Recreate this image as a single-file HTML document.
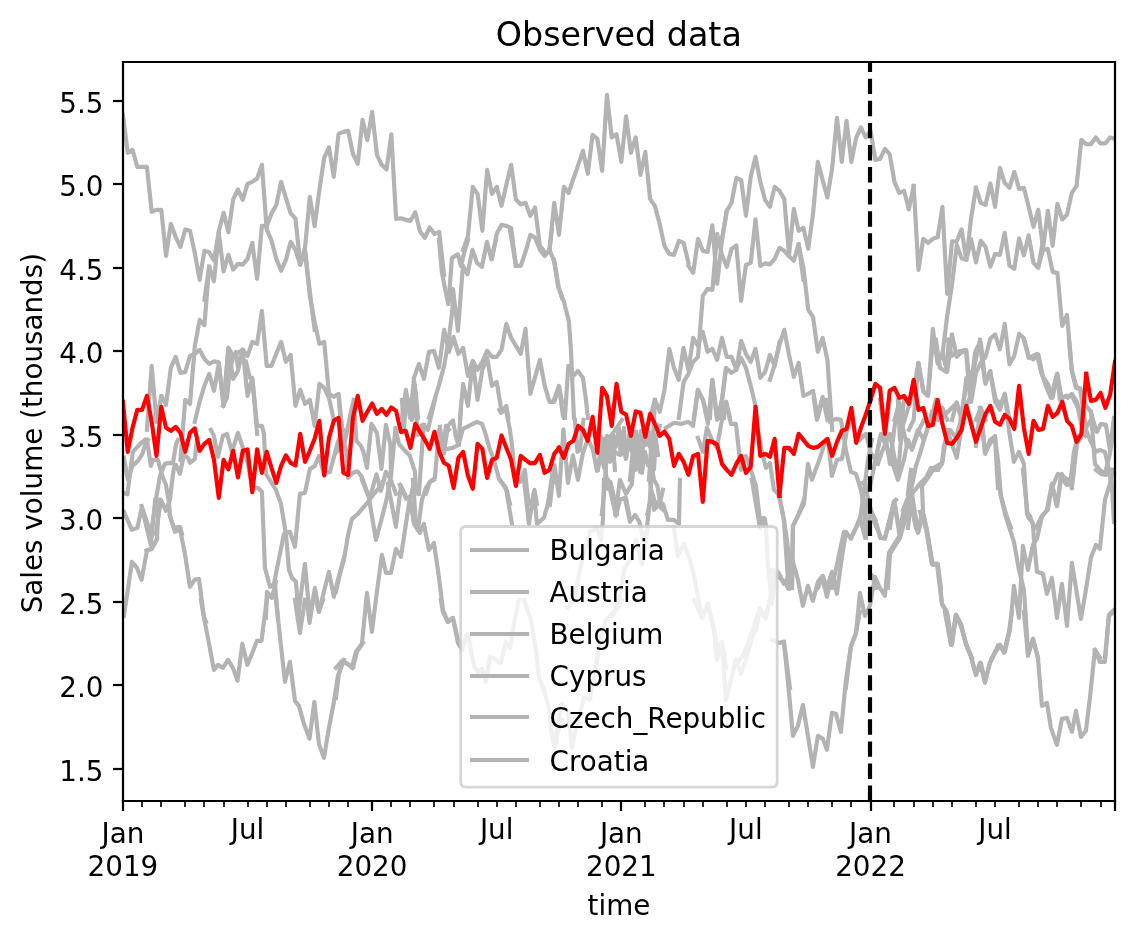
<!DOCTYPE html>
<html><head><meta charset="utf-8"><title>Observed data</title><style>html,body{margin:0;padding:0;background:#fff;overflow:hidden}svg{display:block}text{white-space:pre}</style></head><body>
<svg width="1134" height="940" viewBox="0 0 1134 940" style="font-family:'DejaVu Sans','Liberation Sans',sans-serif"><defs><clipPath id="c0"><rect x="122.93" y="61.84" width="992" height="739.2"/></clipPath></defs>
<path d="M0 940L1134.93 940L1134.93 -0.82L0 -0.82Z" style="fill:#ffffff"/>
<path d="M122.93 801.04L1114.93 801.04L1114.93 61.84L122.93 61.84Z" style="fill:#ffffff"/>
<path d="M123 801L123 811" style="fill:#000000;stroke:#000000;stroke-width:2.22;stroke-linecap:butt;stroke-linejoin:round"/>
<text x="101.49" y="843.31" style="font-size:27.78px;fill:#000000">Jan</text>
<text x="87.56" y="875.71" style="font-size:27.78px;fill:#000000">2019</text>
<path d="M372 801L372 811" style="fill:#000000;stroke:#000000;stroke-width:2.22;stroke-linecap:butt;stroke-linejoin:round"/>
<text x="350.69" y="843.31" style="font-size:27.78px;fill:#000000">Jan</text>
<text x="336.75" y="875.71" style="font-size:27.78px;fill:#000000">2020</text>
<path d="M621 801L621 811" style="fill:#000000;stroke:#000000;stroke-width:2.22;stroke-linecap:butt;stroke-linejoin:round"/>
<text x="599.89" y="843.31" style="font-size:27.78px;fill:#000000">Jan</text>
<text x="586.01" y="875.71" style="font-size:27.78px;fill:#000000">2021</text>
<path d="M871 801L871 811" style="fill:#000000;stroke:#000000;stroke-width:2.22;stroke-linecap:butt;stroke-linejoin:round"/>
<text x="849.09" y="843.31" style="font-size:27.78px;fill:#000000">Jan</text>
<text x="835.21" y="875.71" style="font-size:27.78px;fill:#000000">2022</text>
<path d="M1115 801L1115 811" style="fill:#000000;stroke:#000000;stroke-width:2.22;stroke-linecap:butt;stroke-linejoin:round"/>
<path d="M142 801L142 807" style="fill:#000000;stroke:#000000;stroke-width:1.67;stroke-linecap:butt;stroke-linejoin:round"/>
<path d="M161 801L161 807" style="fill:#000000;stroke:#000000;stroke-width:1.67;stroke-linecap:butt;stroke-linejoin:round"/>
<path d="M185 801L185 807" style="fill:#000000;stroke:#000000;stroke-width:1.67;stroke-linecap:butt;stroke-linejoin:round"/>
<path d="M204 801L204 807" style="fill:#000000;stroke:#000000;stroke-width:1.67;stroke-linecap:butt;stroke-linejoin:round"/>
<path d="M224 801L224 807" style="fill:#000000;stroke:#000000;stroke-width:1.67;stroke-linecap:butt;stroke-linejoin:round"/>
<path d="M248 801L248 807" style="fill:#000000;stroke:#000000;stroke-width:1.67;stroke-linecap:butt;stroke-linejoin:round"/>
<text x="230.72" y="838.87" style="font-size:27.78px;fill:#000000">Jul</text>
<path d="M267 801L267 807" style="fill:#000000;stroke:#000000;stroke-width:1.67;stroke-linecap:butt;stroke-linejoin:round"/>
<path d="M286 801L286 807" style="fill:#000000;stroke:#000000;stroke-width:1.67;stroke-linecap:butt;stroke-linejoin:round"/>
<path d="M310 801L310 807" style="fill:#000000;stroke:#000000;stroke-width:1.67;stroke-linecap:butt;stroke-linejoin:round"/>
<path d="M329 801L329 807" style="fill:#000000;stroke:#000000;stroke-width:1.67;stroke-linecap:butt;stroke-linejoin:round"/>
<path d="M348 801L348 807" style="fill:#000000;stroke:#000000;stroke-width:1.67;stroke-linecap:butt;stroke-linejoin:round"/>
<path d="M391 801L391 807" style="fill:#000000;stroke:#000000;stroke-width:1.67;stroke-linecap:butt;stroke-linejoin:round"/>
<path d="M410 801L410 807" style="fill:#000000;stroke:#000000;stroke-width:1.67;stroke-linecap:butt;stroke-linejoin:round"/>
<path d="M434 801L434 807" style="fill:#000000;stroke:#000000;stroke-width:1.67;stroke-linecap:butt;stroke-linejoin:round"/>
<path d="M454 801L454 807" style="fill:#000000;stroke:#000000;stroke-width:1.67;stroke-linecap:butt;stroke-linejoin:round"/>
<path d="M478 801L478 807" style="fill:#000000;stroke:#000000;stroke-width:1.67;stroke-linecap:butt;stroke-linejoin:round"/>
<path d="M497 801L497 807" style="fill:#000000;stroke:#000000;stroke-width:1.67;stroke-linecap:butt;stroke-linejoin:round"/>
<text x="479.92" y="838.87" style="font-size:27.78px;fill:#000000">Jul</text>
<path d="M516 801L516 807" style="fill:#000000;stroke:#000000;stroke-width:1.67;stroke-linecap:butt;stroke-linejoin:round"/>
<path d="M540 801L540 807" style="fill:#000000;stroke:#000000;stroke-width:1.67;stroke-linecap:butt;stroke-linejoin:round"/>
<path d="M559 801L559 807" style="fill:#000000;stroke:#000000;stroke-width:1.67;stroke-linecap:butt;stroke-linejoin:round"/>
<path d="M578 801L578 807" style="fill:#000000;stroke:#000000;stroke-width:1.67;stroke-linecap:butt;stroke-linejoin:round"/>
<path d="M602 801L602 807" style="fill:#000000;stroke:#000000;stroke-width:1.67;stroke-linecap:butt;stroke-linejoin:round"/>
<path d="M645 801L645 807" style="fill:#000000;stroke:#000000;stroke-width:1.67;stroke-linecap:butt;stroke-linejoin:round"/>
<path d="M664 801L664 807" style="fill:#000000;stroke:#000000;stroke-width:1.67;stroke-linecap:butt;stroke-linejoin:round"/>
<path d="M684 801L684 807" style="fill:#000000;stroke:#000000;stroke-width:1.67;stroke-linecap:butt;stroke-linejoin:round"/>
<path d="M703 801L703 807" style="fill:#000000;stroke:#000000;stroke-width:1.67;stroke-linecap:butt;stroke-linejoin:round"/>
<path d="M727 801L727 807" style="fill:#000000;stroke:#000000;stroke-width:1.67;stroke-linecap:butt;stroke-linejoin:round"/>
<path d="M746 801L746 807" style="fill:#000000;stroke:#000000;stroke-width:1.67;stroke-linecap:butt;stroke-linejoin:round"/>
<text x="729.11" y="838.87" style="font-size:27.78px;fill:#000000">Jul</text>
<path d="M765 801L765 807" style="fill:#000000;stroke:#000000;stroke-width:1.67;stroke-linecap:butt;stroke-linejoin:round"/>
<path d="M789 801L789 807" style="fill:#000000;stroke:#000000;stroke-width:1.67;stroke-linecap:butt;stroke-linejoin:round"/>
<path d="M808 801L808 807" style="fill:#000000;stroke:#000000;stroke-width:1.67;stroke-linecap:butt;stroke-linejoin:round"/>
<path d="M832 801L832 807" style="fill:#000000;stroke:#000000;stroke-width:1.67;stroke-linecap:butt;stroke-linejoin:round"/>
<path d="M851 801L851 807" style="fill:#000000;stroke:#000000;stroke-width:1.67;stroke-linecap:butt;stroke-linejoin:round"/>
<path d="M894 801L894 807" style="fill:#000000;stroke:#000000;stroke-width:1.67;stroke-linecap:butt;stroke-linejoin:round"/>
<path d="M914 801L914 807" style="fill:#000000;stroke:#000000;stroke-width:1.67;stroke-linecap:butt;stroke-linejoin:round"/>
<path d="M933 801L933 807" style="fill:#000000;stroke:#000000;stroke-width:1.67;stroke-linecap:butt;stroke-linejoin:round"/>
<path d="M952 801L952 807" style="fill:#000000;stroke:#000000;stroke-width:1.67;stroke-linecap:butt;stroke-linejoin:round"/>
<path d="M976 801L976 807" style="fill:#000000;stroke:#000000;stroke-width:1.67;stroke-linecap:butt;stroke-linejoin:round"/>
<path d="M995 801L995 807" style="fill:#000000;stroke:#000000;stroke-width:1.67;stroke-linecap:butt;stroke-linejoin:round"/>
<text x="978.31" y="838.87" style="font-size:27.78px;fill:#000000">Jul</text>
<path d="M1019 801L1019 807" style="fill:#000000;stroke:#000000;stroke-width:1.67;stroke-linecap:butt;stroke-linejoin:round"/>
<path d="M1038 801L1038 807" style="fill:#000000;stroke:#000000;stroke-width:1.67;stroke-linecap:butt;stroke-linejoin:round"/>
<path d="M1057 801L1057 807" style="fill:#000000;stroke:#000000;stroke-width:1.67;stroke-linecap:butt;stroke-linejoin:round"/>
<path d="M1081 801L1081 807" style="fill:#000000;stroke:#000000;stroke-width:1.67;stroke-linecap:butt;stroke-linejoin:round"/>
<path d="M1101 801L1101 807" style="fill:#000000;stroke:#000000;stroke-width:1.67;stroke-linecap:butt;stroke-linejoin:round"/>
<text x="587.56" y="914.82" style="font-size:27.78px;fill:#000000">time</text>
<path d="M123 769L113 769" style="fill:#000000;stroke:#000000;stroke-width:2.22;stroke-linecap:butt;stroke-linejoin:round"/>
<text x="59.36" y="780.67" style="font-size:27.78px;fill:#000000">1.5</text>
<path d="M123 685L113 685" style="fill:#000000;stroke:#000000;stroke-width:2.22;stroke-linecap:butt;stroke-linejoin:round"/>
<text x="59.24" y="697.17" style="font-size:27.78px;fill:#000000">2.0</text>
<path d="M123 602L113 602" style="fill:#000000;stroke:#000000;stroke-width:2.22;stroke-linecap:butt;stroke-linejoin:round"/>
<text x="59.36" y="613.67" style="font-size:27.78px;fill:#000000">2.5</text>
<path d="M123 518L113 518" style="fill:#000000;stroke:#000000;stroke-width:2.22;stroke-linecap:butt;stroke-linejoin:round"/>
<text x="59.11" y="530.17" style="font-size:27.78px;fill:#000000">3.0</text>
<path d="M123 435L113 435" style="fill:#000000;stroke:#000000;stroke-width:2.22;stroke-linecap:butt;stroke-linejoin:round"/>
<text x="59.24" y="446.67" style="font-size:27.78px;fill:#000000">3.5</text>
<path d="M123 351L113 351" style="fill:#000000;stroke:#000000;stroke-width:2.22;stroke-linecap:butt;stroke-linejoin:round"/>
<text x="59.24" y="363.17" style="font-size:27.78px;fill:#000000">4.0</text>
<path d="M123 268L113 268" style="fill:#000000;stroke:#000000;stroke-width:2.22;stroke-linecap:butt;stroke-linejoin:round"/>
<text x="59.36" y="279.67" style="font-size:27.78px;fill:#000000">4.5</text>
<path d="M123 184L113 184" style="fill:#000000;stroke:#000000;stroke-width:2.22;stroke-linecap:butt;stroke-linejoin:round"/>
<text x="59.24" y="196.17" style="font-size:27.78px;fill:#000000">5.0</text>
<path d="M123 101L113 101" style="fill:#000000;stroke:#000000;stroke-width:2.22;stroke-linecap:butt;stroke-linejoin:round"/>
<text x="59.36" y="112.67" style="font-size:27.78px;fill:#000000">5.5</text>
<text x="42" y="613.33" style="font-size:27.78px;fill:#000000" transform="rotate(-90 42 613.33)">Sales volume (thousands)</text>
<path d="M122.93 434.84Lnan nanLnan nanLnan nanLnan nanLnan nanLnan nanLnan nanLnan nanLnan nanLnan nanLnan nanLnan nanLnan nanLnan nanLnan nanLnan nanLnan nanLnan nanLnan nanLnan nanLnan nanLnan nanLnan nanLnan nanLnan nanLnan nanLnan nanLnan nanLnan nanLnan nanLnan nanLnan nanLnan nanLnan nanLnan nanLnan nanLnan nanLnan nanLnan nanLnan nanLnan nanLnan nanLnan nanLnan nanLnan nanLnan nanLnan nanLnan nanLnan nanLnan nanLnan nanLnan nanLnan nanLnan nanLnan nanLnan nanLnan nanLnan nanLnan nanLnan nanLnan nanLnan nanLnan nanLnan nanLnan nanLnan nanLnan nanLnan nanLnan nanLnan nanLnan nanLnan nanLnan nanLnan nanLnan nanLnan nanLnan nanLnan nanLnan nanLnan nanLnan nanLnan nanLnan nanLnan nanLnan nanLnan nanLnan nanLnan nanLnan nanLnan nanLnan nanLnan nanLnan nanLnan nanLnan nanLnan nanLnan nanLnan nanLnan nanLnan nanLnan nanLnan nanLnan nanLnan nanLnan nanLnan nanLnan nanLnan nanLnan nanLnan nanLnan nanLnan nanLnan nanLnan nanLnan nanLnan nanLnan nanLnan nanLnan nanLnan nanLnan nanLnan nanLnan nanLnan nanLnan nanLnan nanLnan nanLnan nanLnan nanLnan nanLnan nanLnan nanLnan nanLnan nanLnan nanLnan nanLnan nanLnan nanLnan nanLnan nanLnan nanLnan nanLnan nanLnan nanLnan nanLnan nanLnan nanLnan nanLnan nanLnan nanLnan nanLnan nanLnan nanLnan nanLnan nanLnan nanLnan nanLnan nanLnan nanLnan nanLnan nanLnan nanLnan nanLnan nanLnan nanLnan nanLnan nanLnan nanLnan nanLnan nanLnan nanLnan nanLnan nanLnan nanLnan nanLnan nanLnan nanLnan nanLnan nanLnan nanLnan nanLnan nanLnan nanLnan nanLnan nanLnan nanLnan nanLnan nanLnan nanLnan nanLnan nanLnan nanLnan nanLnan nanLnan nanLnan nanLnan nanLnan nanLnan nanLnan nanLnan nanLnan nanLnan nanLnan nanLnan nanLnan nanLnan nan" style="fill:none;stroke:#b3b3b3;stroke-width:4.17;stroke-linecap:square;stroke-linejoin:round" clip-path="url(#c0)"/>
<path d="M122.93 434.84Lnan nanLnan nanLnan nanLnan nanLnan nanLnan nanLnan nanLnan nanLnan nanLnan nanLnan nanLnan nanLnan nanLnan nanLnan nanLnan nanLnan nanLnan nanLnan nanLnan nanLnan nanLnan nanLnan nanLnan nanLnan nanLnan nanLnan nanLnan nanLnan nanLnan nanLnan nanLnan nanLnan nanLnan nanLnan nanLnan nanLnan nanLnan nanLnan nanLnan nanLnan nanLnan nanLnan nanLnan nanLnan nanLnan nanLnan nanLnan nanLnan nanLnan nanLnan nanLnan nanLnan nanLnan nanLnan nanLnan nanLnan nanLnan nanLnan nanLnan nanLnan nanLnan nanLnan nanLnan nanLnan nanLnan nanLnan nanLnan nanLnan nanLnan nanLnan nanLnan nanLnan nanLnan nanLnan nanLnan nanLnan nanLnan nanLnan nanLnan nanLnan nanLnan nanLnan nanLnan nanLnan nanLnan nanLnan nanLnan nanLnan nanLnan nanLnan nanLnan nanLnan nanLnan nanLnan nanLnan nanLnan nanLnan nanLnan nanLnan nanLnan nanLnan nanLnan nanLnan nanLnan nanLnan nanLnan nanLnan nanLnan nanLnan nanLnan nanLnan nanLnan nanLnan nanLnan nanLnan nanLnan nanLnan nanLnan nanLnan nanLnan nanLnan nanLnan nanLnan nanLnan nanLnan nanLnan nanLnan nanLnan nanLnan nanLnan nanLnan nanLnan nanLnan nanLnan nanLnan nanLnan nanLnan nanLnan nanLnan nanLnan nanLnan nanLnan nanLnan nanLnan nanLnan nanLnan nanLnan nanLnan nanLnan nanLnan nanLnan nanLnan nanLnan nanLnan nanLnan nanLnan nanLnan nanLnan nanLnan nanLnan nanLnan nanLnan nanLnan nanLnan nanLnan nanLnan nanLnan nanLnan nanLnan nanLnan nanLnan nanLnan nanLnan nanLnan nanLnan nanLnan nanLnan nanLnan nanLnan nanLnan nanLnan nanLnan nanLnan nanLnan nanLnan nanLnan nanLnan nanLnan nanLnan nanLnan nanLnan nanLnan nanLnan nanLnan nanLnan nanLnan nanLnan nanLnan nanLnan nanLnan nanLnan nanLnan nanLnan nanLnan nanLnan nanLnan nan" style="fill:none;stroke:#b3b3b3;stroke-width:4.17;stroke-linecap:square;stroke-linejoin:round" clip-path="url(#c0)"/>
<path d="M122.93 434.84Lnan nanLnan nanLnan nanLnan nanLnan nanLnan nanLnan nanLnan nanLnan nanLnan nanLnan nanLnan nanLnan nanLnan nanLnan nanLnan nanLnan nanLnan nanLnan nanLnan nanLnan nanLnan nanLnan nanLnan nanLnan nanLnan nanLnan nanLnan nanLnan nanLnan nanLnan nanLnan nanLnan nanLnan nanLnan nanLnan nanLnan nanLnan nanLnan nanLnan nanLnan nanLnan nanLnan nanLnan nanLnan nanLnan nanLnan nanLnan nanLnan nanLnan nanLnan nanLnan nanLnan nanLnan nanLnan nanLnan nanLnan nanLnan nanLnan nanLnan nanLnan nanLnan nanLnan nanLnan nanLnan nanLnan nanLnan nanLnan nanLnan nanLnan nanLnan nanLnan nanLnan nanLnan nanLnan nanLnan nanLnan nanLnan nanLnan nanLnan nanLnan nanLnan nanLnan nanLnan nanLnan nanLnan nanLnan nanLnan nanLnan nanLnan nanLnan nanLnan nanLnan nanLnan nanLnan nanLnan nanLnan nanLnan nanLnan nanLnan nanLnan nanLnan nanLnan nanLnan nanLnan nanLnan nanLnan nanLnan nanLnan nanLnan nanLnan nanLnan nanLnan nanLnan nanLnan nanLnan nanLnan nanLnan nanLnan nanLnan nanLnan nanLnan nanLnan nanLnan nanLnan nanLnan nanLnan nanLnan nanLnan nanLnan nanLnan nanLnan nanLnan nanLnan nanLnan nanLnan nanLnan nanLnan nanLnan nanLnan nanLnan nanLnan nanLnan nanLnan nanLnan nanLnan nanLnan nanLnan nanLnan nanLnan nanLnan nanLnan nanLnan nanLnan nanLnan nanLnan nanLnan nanLnan nanLnan nanLnan nanLnan nanLnan nanLnan nanLnan nanLnan nanLnan nanLnan nanLnan nanLnan nanLnan nanLnan nanLnan nanLnan nanLnan nanLnan nanLnan nanLnan nanLnan nanLnan nanLnan nanLnan nanLnan nanLnan nanLnan nanLnan nanLnan nanLnan nanLnan nanLnan nanLnan nanLnan nanLnan nanLnan nanLnan nanLnan nanLnan nanLnan nanLnan nanLnan nanLnan nanLnan nanLnan nanLnan nanLnan nanLnan nanLnan nanLnan nan" style="fill:none;stroke:#b3b3b3;stroke-width:4.17;stroke-linecap:square;stroke-linejoin:round" clip-path="url(#c0)"/>
<path d="M122.93 434.84Lnan nanLnan nanLnan nanLnan nanLnan nanLnan nanLnan nanLnan nanLnan nanLnan nanLnan nanLnan nanLnan nanLnan nanLnan nanLnan nanLnan nanLnan nanLnan nanLnan nanLnan nanLnan nanLnan nanLnan nanLnan nanLnan nanLnan nanLnan nanLnan nanLnan nanLnan nanLnan nanLnan nanLnan nanLnan nanLnan nanLnan nanLnan nanLnan nanLnan nanLnan nanLnan nanLnan nanLnan nanLnan nanLnan nanLnan nanLnan nanLnan nanLnan nanLnan nanLnan nanLnan nanLnan nanLnan nanLnan nanLnan nanLnan nanLnan nanLnan nanLnan nanLnan nanLnan nanLnan nanLnan nanLnan nanLnan nanLnan nanLnan nanLnan nanLnan nanLnan nanLnan nanLnan nanLnan nanLnan nanLnan nanLnan nanLnan nanLnan nanLnan nanLnan nanLnan nanLnan nanLnan nanLnan nanLnan nanLnan nanLnan nanLnan nanLnan nanLnan nanLnan nanLnan nanLnan nanLnan nanLnan nanLnan nanLnan nanLnan nanLnan nanLnan nanLnan nanLnan nanLnan nanLnan nanLnan nanLnan nanLnan nanLnan nanLnan nanLnan nanLnan nanLnan nanLnan nanLnan nanLnan nanLnan nanLnan nanLnan nanLnan nanLnan nanLnan nanLnan nanLnan nanLnan nanLnan nanLnan nanLnan nanLnan nanLnan nanLnan nanLnan nanLnan nanLnan nanLnan nanLnan nanLnan nanLnan nanLnan nanLnan nanLnan nanLnan nanLnan nanLnan nanLnan nanLnan nanLnan nanLnan nanLnan nanLnan nanLnan nanLnan nanLnan nanLnan nanLnan nanLnan nanLnan nanLnan nanLnan nanLnan nanLnan nanLnan nanLnan nanLnan nanLnan nanLnan nanLnan nanLnan nanLnan nanLnan nanLnan nanLnan nanLnan nanLnan nanLnan nanLnan nanLnan nanLnan nanLnan nanLnan nanLnan nanLnan nanLnan nanLnan nanLnan nanLnan nanLnan nanLnan nanLnan nanLnan nanLnan nanLnan nanLnan nanLnan nanLnan nanLnan nanLnan nanLnan nanLnan nanLnan nanLnan nanLnan nanLnan nanLnan nanLnan nanLnan nan" style="fill:none;stroke:#b3b3b3;stroke-width:4.17;stroke-linecap:square;stroke-linejoin:round" clip-path="url(#c0)"/>
<path d="M122.93 434.84Lnan nanLnan nanLnan nanLnan nanLnan nanLnan nanLnan nanLnan nanLnan nanLnan nanLnan nanLnan nanLnan nanLnan nanLnan nanLnan nanLnan nanLnan nanLnan nanLnan nanLnan nanLnan nanLnan nanLnan nanLnan nanLnan nanLnan nanLnan nanLnan nanLnan nanLnan nanLnan nanLnan nanLnan nanLnan nanLnan nanLnan nanLnan nanLnan nanLnan nanLnan nanLnan nanLnan nanLnan nanLnan nanLnan nanLnan nanLnan nanLnan nanLnan nanLnan nanLnan nanLnan nanLnan nanLnan nanLnan nanLnan nanLnan nanLnan nanLnan nanLnan nanLnan nanLnan nanLnan nanLnan nanLnan nanLnan nanLnan nanLnan nanLnan nanLnan nanLnan nanLnan nanLnan nanLnan nanLnan nanLnan nanLnan nanLnan nanLnan nanLnan nanLnan nanLnan nanLnan nanLnan nanLnan nanLnan nanLnan nanLnan nanLnan nanLnan nanLnan nanLnan nanLnan nanLnan nanLnan nanLnan nanLnan nanLnan nanLnan nanLnan nanLnan nanLnan nanLnan nanLnan nanLnan nanLnan nanLnan nanLnan nanLnan nanLnan nanLnan nanLnan nanLnan nanLnan nanLnan nanLnan nanLnan nanLnan nanLnan nanLnan nanLnan nanLnan nanLnan nanLnan nanLnan nanLnan nanLnan nanLnan nanLnan nanLnan nanLnan nanLnan nanLnan nanLnan nanLnan nanLnan nanLnan nanLnan nanLnan nanLnan nanLnan nanLnan nanLnan nanLnan nanLnan nanLnan nanLnan nanLnan nanLnan nanLnan nanLnan nanLnan nanLnan nanLnan nanLnan nanLnan nanLnan nanLnan nanLnan nanLnan nanLnan nanLnan nanLnan nanLnan nanLnan nanLnan nanLnan nanLnan nanLnan nanLnan nanLnan nanLnan nanLnan nanLnan nanLnan nanLnan nanLnan nanLnan nanLnan nanLnan nanLnan nanLnan nanLnan nanLnan nanLnan nanLnan nanLnan nanLnan nanLnan nanLnan nanLnan nanLnan nanLnan nanLnan nanLnan nanLnan nanLnan nanLnan nanLnan nanLnan nanLnan nanLnan nanLnan nanLnan nanLnan nanLnan nan" style="fill:none;stroke:#b3b3b3;stroke-width:4.17;stroke-linecap:square;stroke-linejoin:round" clip-path="url(#c0)"/>
<path d="M122.93 434.84Lnan nanLnan nanLnan nanLnan nanLnan nanLnan nanLnan nanLnan nanLnan nanLnan nanLnan nanLnan nanLnan nanLnan nanLnan nanLnan nanLnan nanLnan nanLnan nanLnan nanLnan nanLnan nanLnan nanLnan nanLnan nanLnan nanLnan nanLnan nanLnan nanLnan nanLnan nanLnan nanLnan nanLnan nanLnan nanLnan nanLnan nanLnan nanLnan nanLnan nanLnan nanLnan nanLnan nanLnan nanLnan nanLnan nanLnan nanLnan nanLnan nanLnan nanLnan nanLnan nanLnan nanLnan nanLnan nanLnan nanLnan nanLnan nanLnan nanLnan nanLnan nanLnan nanLnan nanLnan nanLnan nanLnan nanLnan nanLnan nanLnan nanLnan nanLnan nanLnan nanLnan nanLnan nanLnan nanLnan nanLnan nanLnan nanLnan nanLnan nanLnan nanLnan nanLnan nanLnan nanLnan nanLnan nanLnan nanLnan nanLnan nanLnan nanLnan nanLnan nanLnan nanLnan nanLnan nanLnan nanLnan nanLnan nanLnan nanLnan nanLnan nanLnan nanLnan nanLnan nanLnan nanLnan nanLnan nanLnan nanLnan nanLnan nanLnan nanLnan nanLnan nanLnan nanLnan nanLnan nanLnan nanLnan nanLnan nanLnan nanLnan nanLnan nanLnan nanLnan nanLnan nanLnan nanLnan nanLnan nanLnan nanLnan nanLnan nanLnan nanLnan nanLnan nanLnan nanLnan nanLnan nanLnan nanLnan nanLnan nanLnan nanLnan nanLnan nanLnan nanLnan nanLnan nanLnan nanLnan nanLnan nanLnan nanLnan nanLnan nanLnan nanLnan nanLnan nanLnan nanLnan nanLnan nanLnan nanLnan nanLnan nanLnan nanLnan nanLnan nanLnan nanLnan nanLnan nanLnan nanLnan nanLnan nanLnan nanLnan nanLnan nanLnan nanLnan nanLnan nanLnan nanLnan nanLnan nanLnan nanLnan nanLnan nanLnan nanLnan nanLnan nanLnan nanLnan nanLnan nanLnan nanLnan nanLnan nanLnan nanLnan nanLnan nanLnan nanLnan nanLnan nanLnan nanLnan nanLnan nanLnan nanLnan nanLnan nanLnan nanLnan nanLnan nanLnan nan" style="fill:none;stroke:#b3b3b3;stroke-width:4.17;stroke-linecap:square;stroke-linejoin:round" clip-path="url(#c0)"/>
<path d="M122.93 434.84Lnan nanLnan nanLnan nanLnan nanLnan nanLnan nanLnan nanLnan nanLnan nanLnan nanLnan nanLnan nanLnan nanLnan nanLnan nanLnan nanLnan nanLnan nanLnan nanLnan nanLnan nanLnan nanLnan nanLnan nanLnan nanLnan nanLnan nanLnan nanLnan nanLnan nanLnan nanLnan nanLnan nanLnan nanLnan nanLnan nanLnan nanLnan nanLnan nanLnan nanLnan nanLnan nanLnan nanLnan nanLnan nanLnan nanLnan nanLnan nanLnan nanLnan nanLnan nanLnan nanLnan nanLnan nanLnan nanLnan nanLnan nanLnan nanLnan nanLnan nanLnan nanLnan nanLnan nanLnan nanLnan nanLnan nanLnan nanLnan nanLnan nanLnan nanLnan nanLnan nanLnan nanLnan nanLnan nanLnan nanLnan nanLnan nanLnan nanLnan nanLnan nanLnan nanLnan nanLnan nanLnan nanLnan nanLnan nanLnan nanLnan nanLnan nanLnan nanLnan nanLnan nanLnan nanLnan nanLnan nanLnan nanLnan nanLnan nanLnan nanLnan nanLnan nanLnan nanLnan nanLnan nanLnan nanLnan nanLnan nanLnan nanLnan nanLnan nanLnan nanLnan nanLnan nanLnan nanLnan nanLnan nanLnan nanLnan nanLnan nanLnan nanLnan nanLnan nanLnan nanLnan nanLnan nanLnan nanLnan nanLnan nanLnan nanLnan nanLnan nanLnan nanLnan nanLnan nanLnan nanLnan nanLnan nanLnan nanLnan nanLnan nanLnan nanLnan nanLnan nanLnan nanLnan nanLnan nanLnan nanLnan nanLnan nanLnan nanLnan nanLnan nanLnan nanLnan nanLnan nanLnan nanLnan nanLnan nanLnan nanLnan nanLnan nanLnan nanLnan nanLnan nanLnan nanLnan nanLnan nanLnan nanLnan nanLnan nanLnan nanLnan nanLnan nanLnan nanLnan nanLnan nanLnan nanLnan nanLnan nanLnan nanLnan nanLnan nanLnan nanLnan nanLnan nanLnan nanLnan nanLnan nanLnan nanLnan nanLnan nanLnan nanLnan nanLnan nanLnan nanLnan nanLnan nanLnan nanLnan nanLnan nanLnan nanLnan nanLnan nanLnan nanLnan nanLnan nan" style="fill:none;stroke:#ff0000;stroke-width:4.17;stroke-linecap:square;stroke-linejoin:round" clip-path="url(#c0)"/>
<path d="M122.93 114.84L127.72 152.84L132.52 149.84L137.31 166.84L142.1 166.84L146.89 166.84L151.68 211.84L156.48 209.84L161.27 209.84L166.06 255.84L170.85 223.84L175.65 236.84L180.44 246.84L185.23 229.44L190.02 230.84L194.81 252.84L199.61 279.84L204.4 250.84L209.19 252.34L213.98 260.34L218.78 231.34L223.57 212.84L228.36 232.34L233.15 199.44L237.95 189.44L242.74 199.84L247.53 183.84L252.32 181.84L257.11 178.44L261.91 164.84L266.7 229.44L271.49 240.54L276.28 258.84L281.08 270.84L285.87 259.84L290.66 241.84L295.45 249.84L300.24 264.84L305.04 247.34L309.83 196.84L314.62 226.24L319.41 189.84L324.21 157.84L329 147.44L333.79 176.84L338.58 133.84L343.37 131.84L348.17 130.84L352.96 153.84L357.75 163.84L362.54 119.84L367.34 140.24L372.13 111.84L376.92 154.84L381.71 164.84L386.51 169.44L391.3 134.24L396.09 218.84L400.88 218.24L405.67 219.84L410.47 220.84L415.26 212.24L420.05 231.44L424.84 237.84L429.64 227.44L434.43 233.84L439.22 231.84L444.01 274.84" style="fill:none;stroke:#b3b3b3;stroke-width:4.17;stroke-linecap:square;stroke-linejoin:round" clip-path="url(#c0)"/>
<path d="M204.4 299.84L209.19 266.54L213.98 281.34L218.78 232.84L223.57 271.44L228.36 254.84L233.15 269.64L237.95 263.84L242.74 264.64L247.53 258.84L252.32 242.84L257.11 278.84L261.91 225.84L266.7 226.34L271.49 213.44L276.28 205.14L281.08 181.84L285.87 197.84L290.66 213.44L295.45 218.54L300.24 263.84L305.04 250.84L309.83 291.84L314.62 329.84" style="fill:none;stroke:#b3b3b3;stroke-width:4.17;stroke-linecap:square;stroke-linejoin:round" clip-path="url(#c0)"/>
<path d="M463.18 249.84L467.97 235.84L472.77 186.84L477.56 193.84L482.35 230.84L487.14 169.84L491.94 193.84L496.73 186.84L501.52 205.84L506.31 184.84L511.1 164.84L515.9 199.44L520.69 204.24L525.48 202.84L530.27 215.84L535.07 207.44L539.86 245.84L544.65 251.84" style="fill:none;stroke:#b3b3b3;stroke-width:4.17;stroke-linecap:square;stroke-linejoin:round" clip-path="url(#c0)"/>
<path d="M491.94 258.84L496.73 233.84L501.52 224.84L506.31 225.84L511.1 227.84L515.9 265.84" style="fill:none;stroke:#b3b3b3;stroke-width:4.17;stroke-linecap:square;stroke-linejoin:round" clip-path="url(#c0)"/>
<path d="M549.44 249.84L554.23 202.84L559.03 234.84L563.82 186.84L568.61 192.84L573.4 178.84L578.2 164.84L582.99 150.84L587.78 173.84L592.57 134.84L597.37 138.84L602.16 170.84L606.95 94.84L611.74 137.44L616.53 134.24L621.33 161.84L626.12 116.24L630.91 152.84L635.7 137.44L640.5 174.84L645.29 151.84L650.08 198.84L654.87 205.84L659.66 223.84L664.46 245.84L669.25 253.84L674.04 254.84L678.83 240.84L683.63 242.84L688.42 262.84" style="fill:none;stroke:#b3b3b3;stroke-width:4.17;stroke-linecap:square;stroke-linejoin:round" clip-path="url(#c0)"/>
<path d="M721.96 239.84L726.76 210.84L731.55 202.84L736.34 177.84L741.13 179.84L745.93 215.84L750.72 176.84L755.51 156.84L760.3 181.84L765.09 199.84L769.89 206.84L774.68 186.84L779.47 190.84L784.26 198.84L789.06 254.84L793.85 208.84L798.64 230.84L803.43 227.84L808.23 248.84L813.02 213.84L817.81 161.84L822.6 179.84L827.39 197.44L832.19 167.84L836.98 117.84L841.77 161.84L846.56 120.84L851.36 161.84L856.15 137.84L860.94 127.44L865.73 137.44L870.52 130.84L875.32 159.84L880.11 158.84L884.9 148.84L889.69 154.24L894.49 181.84L899.28 192.84L904.07 190.84L908.86 209.44L913.66 185.84" style="fill:none;stroke:#b3b3b3;stroke-width:4.17;stroke-linecap:square;stroke-linejoin:round" clip-path="url(#c0)"/>
<path d="M975.95 187.84L980.75 202.84L985.54 204.84L990.33 183.44L995.12 206.84L999.92 167.84L1004.71 182.84L1009.5 187.84L1014.29 171.84L1019.09 188.84L1023.88 187.84L1028.67 206.84L1033.46 226.84L1038.25 209.84L1043.05 248.84L1047.84 210.84L1052.63 245.84L1057.42 203.84L1062.22 219.44L1067.01 214.84L1071.8 192.84L1076.59 185.84L1081.38 139.84L1086.18 144.24L1090.97 144.24L1095.76 137.44L1100.55 143.44L1105.35 143.44L1110.14 137.44L1114.93 138.84" style="fill:none;stroke:#b3b3b3;stroke-width:4.17;stroke-linecap:square;stroke-linejoin:round" clip-path="url(#c0)"/>
<path d="M180.44 459.84L185.23 399.84L190.02 403.84L194.81 346.44L199.61 319.84L204.4 325.24L209.19 266.54" style="fill:none;stroke:#b3b3b3;stroke-width:4.17;stroke-linecap:square;stroke-linejoin:round" clip-path="url(#c0)"/>
<path d="M146.89 429.84L151.68 365.84L156.48 421.84L161.27 395.84L166.06 404.84L170.85 367.84L175.65 356.84L180.44 372.84L185.23 371.84L190.02 355.84L194.81 353.84L199.61 349.84L204.4 358.84L209.19 363.84L213.98 361.34L218.78 362.34L223.57 405.84L228.36 347.84L233.15 378.84L237.95 370.84L242.74 349.84L247.53 395.84L252.32 377.84L257.11 433.84" style="fill:none;stroke:#b3b3b3;stroke-width:4.17;stroke-linecap:square;stroke-linejoin:round" clip-path="url(#c0)"/>
<path d="M194.81 421.84L199.61 401.84L204.4 385.84L209.19 373.84L213.98 390.84L218.78 363.84L223.57 405.84L228.36 347.84L233.15 355.84L237.95 352.84L242.74 349.84L247.53 355.84L252.32 341.84L257.11 343.84L261.91 310.84L266.7 365.84L271.49 365.84L276.28 353.84L281.08 341.84L285.87 361.84L290.66 354.84L295.45 405.84L300.24 389.84L305.04 403.84L309.83 399.84L314.62 425.84L319.41 383.84L324.21 387.84L329 397.84L333.79 419.84" style="fill:none;stroke:#b3b3b3;stroke-width:4.17;stroke-linecap:square;stroke-linejoin:round" clip-path="url(#c0)"/>
<path d="M300.24 263.84L305.04 250.84L309.83 295.84L314.62 321.84L319.41 343.84L324.21 341.84L329 393.84L333.79 396.84L338.58 393.84L343.37 439.84" style="fill:none;stroke:#b3b3b3;stroke-width:4.17;stroke-linecap:square;stroke-linejoin:round" clip-path="url(#c0)"/>
<path d="M222.93 405.84L226.93 397.84L229.93 369.84L232.93 357.84L235.93 351.84L237.93 367.84L242.93 349.84" style="fill:none;stroke:#b3b3b3;stroke-width:4.17;stroke-linecap:square;stroke-linejoin:round" clip-path="url(#c0)"/>
<path d="M245.93 361.84L249.93 377.84L252.33 378.84L257.13 425.84L261.93 425.84L263.93 433.84" style="fill:none;stroke:#b3b3b3;stroke-width:4.17;stroke-linecap:square;stroke-linejoin:round" clip-path="url(#c0)"/>
<path d="M335.93 452.84L344.93 441.84L351.93 406.84L353.93 399.84" style="fill:none;stroke:#b3b3b3;stroke-width:4.17;stroke-linecap:square;stroke-linejoin:round" clip-path="url(#c0)"/>
<path d="M338.93 399.84L340.93 424.84L343.93 441.84L346.43 451.84L347.93 477.84L352.93 472.84L357.43 471.34L361.93 476.84L364.93 485.84L367.93 493.84" style="fill:none;stroke:#b3b3b3;stroke-width:4.17;stroke-linecap:square;stroke-linejoin:round" clip-path="url(#c0)"/>
<path d="M353.93 399.84L355.43 424.84L356.43 440.84L360.93 445.84L363.43 451.84L366.93 467.84L371.43 423.84L376.93 432.84L381.43 468.84L385.93 424.84L390.43 444.84L390.93 476.84L395.43 427.84L398.93 443.84L405.93 451.84L409.93 455.84L414.93 471.84L415.93 489.84L414.93 493.84" style="fill:none;stroke:#b3b3b3;stroke-width:4.17;stroke-linecap:square;stroke-linejoin:round" clip-path="url(#c0)"/>
<path d="M370.93 493.84L376.43 474.34L380.93 490.84L385.93 471.84L390.93 479.84L395.93 493.84" style="fill:none;stroke:#b3b3b3;stroke-width:4.17;stroke-linecap:square;stroke-linejoin:round" clip-path="url(#c0)"/>
<path d="M399.93 484.84L404.93 493.84" style="fill:none;stroke:#b3b3b3;stroke-width:4.17;stroke-linecap:square;stroke-linejoin:round" clip-path="url(#c0)"/>
<path d="M401.93 399.84L403.93 429.84L405.93 399.84L409.93 399.84L411.93 419.84L414.93 399.84L417.93 434.84L420.93 425.84L423.93 424.84L427.93 429.84L434.93 399.84" style="fill:none;stroke:#b3b3b3;stroke-width:4.17;stroke-linecap:square;stroke-linejoin:round" clip-path="url(#c0)"/>
<path d="M418.93 493.84L421.93 449.84L423.93 424.84" style="fill:none;stroke:#b3b3b3;stroke-width:4.17;stroke-linecap:square;stroke-linejoin:round" clip-path="url(#c0)"/>
<path d="M425.93 493.84L429.93 481.84L434.93 477.84L438.93 429.84L442.93 451.84L445.93 425.84L448.93 429.84" style="fill:none;stroke:#b3b3b3;stroke-width:4.17;stroke-linecap:square;stroke-linejoin:round" clip-path="url(#c0)"/>
<path d="M438.93 239.84L441.93 272.84L447.93 302.84L452.93 288.84L457.93 330.84L462.93 265.84L467.43 274.34L472.43 249.84L476.93 262.84L481.93 266.84L486.93 241.84L491.43 259.34L495.93 239.84" style="fill:none;stroke:#b3b3b3;stroke-width:4.17;stroke-linecap:square;stroke-linejoin:round" clip-path="url(#c0)"/>
<path d="M448.43 303.84L451.93 257.84L457.93 254.34L460.93 265.84L464.43 251.84L467.93 239.84" style="fill:none;stroke:#b3b3b3;stroke-width:4.17;stroke-linecap:square;stroke-linejoin:round" clip-path="url(#c0)"/>
<path d="M509.93 229.84L515.93 265.84L520.73 265.84L525.53 251.84L530.33 234.84L535.13 237.84L539.93 249.84L544.73 255.84L549.53 249.84L551.93 229.84" style="fill:none;stroke:#b3b3b3;stroke-width:4.17;stroke-linecap:square;stroke-linejoin:round" clip-path="url(#c0)"/>
<path d="M549.53 249.84L554.33 261.84L557.93 285.84L561.93 297.84" style="fill:none;stroke:#b3b3b3;stroke-width:4.17;stroke-linecap:square;stroke-linejoin:round" clip-path="url(#c0)"/>
<path d="M413.93 377.84L418.93 363.84L423.93 378.84L428.93 351.84L433.93 350.84L438.93 367.84L444.13 329.84L448.93 351.84L453.53 336.84L458.33 353.84L463.13 347.84L467.93 375.84L472.73 360.84L477.53 369.84L482.33 361.84L487.13 350.84L491.93 356.84L496.73 356.84L501.53 349.84L506.33 323.84L511.13 337.84L515.93 345.84L520.73 353.84L525.53 328.84L530.33 393.84L535.13 376.84L539.93 359.84L544.73 385.84L549.53 401.84L554.33 401.84L559.13 386.84L561.93 401.84" style="fill:none;stroke:#b3b3b3;stroke-width:4.17;stroke-linecap:square;stroke-linejoin:round" clip-path="url(#c0)"/>
<path d="M428.93 417.84L434.53 399.84L439.33 383.84L444.13 365.84L448.93 337.84L451.93 313.84L453.53 295.84" style="fill:none;stroke:#b3b3b3;stroke-width:4.17;stroke-linecap:square;stroke-linejoin:round" clip-path="url(#c0)"/>
<path d="M401.93 417.84L405.93 389.84L409.93 417.84L413.93 379.84L415.93 393.84L417.93 417.84" style="fill:none;stroke:#b3b3b3;stroke-width:4.17;stroke-linecap:square;stroke-linejoin:round" clip-path="url(#c0)"/>
<path d="M459.93 417.84L463.13 383.84L467.93 405.84L472.73 361.84L477.53 399.84L482.33 369.84L487.13 357.84L491.93 385.84L496.73 381.84L501.53 411.84L506.33 405.84L508.33 417.84" style="fill:none;stroke:#b3b3b3;stroke-width:4.17;stroke-linecap:square;stroke-linejoin:round" clip-path="url(#c0)"/>
<path d="M688.42 265.84L693.21 272.84L698 238.84L702.8 250.84L707.59 251.84L712.38 225.34L717.17 283.84L721.96 239.84L726.76 210.84" style="fill:none;stroke:#b3b3b3;stroke-width:4.17;stroke-linecap:square;stroke-linejoin:round" clip-path="url(#c0)"/>
<path d="M678.83 417.84L683.63 381.84L688.42 373.84L693.21 361.84L698 356.84L702.8 295.84L707.59 288.84L712.38 289.84L717.17 233.84L721.96 254.84L726.76 266.84L731.55 248.84L736.34 245.34L741.13 300.84L745.93 264.84L750.72 262.84L755.51 219.34L760.3 265.84L765.09 263.34L769.89 264.34L774.68 258.84L779.47 247.84L784.26 250.84L789.06 256.34L793.85 260.84L798.64 243.84L803.43 279.84" style="fill:none;stroke:#b3b3b3;stroke-width:4.17;stroke-linecap:square;stroke-linejoin:round" clip-path="url(#c0)"/>
<path d="M553.93 259.84L558.93 287.84L563.93 301.84L568.93 321.84L570.93 349.84L573.93 417.84" style="fill:none;stroke:#b3b3b3;stroke-width:4.17;stroke-linecap:square;stroke-linejoin:round" clip-path="url(#c0)"/>
<path d="M553.93 399.84L558.93 385.84L562.93 415.84L563.93 417.84" style="fill:none;stroke:#b3b3b3;stroke-width:4.17;stroke-linecap:square;stroke-linejoin:round" clip-path="url(#c0)"/>
<path d="M564.93 417.84L568.33 365.84L570.93 369.84L573.33 375.84L577.93 370.84L582.93 377.84L585.93 399.84L587.93 417.84" style="fill:none;stroke:#b3b3b3;stroke-width:4.17;stroke-linecap:square;stroke-linejoin:round" clip-path="url(#c0)"/>
<path d="M650.13 417.84L654.93 399.84L659.73 411.84L664.53 389.84L669.33 348.84L673.93 367.84L678.73 379.84L683.53 347.84L688.33 369.84L693.13 337.84L697.93 345.84L702.73 331.84L707.53 351.84L712.33 348.84L717.13 359.84L721.93 337.84L726.73 356.84L731.53 356.84L736.33 369.84L741.13 340.84L745.93 353.84L750.73 361.84L755.53 348.84L760.33 377.84L765.13 371.84L769.93 354.84L774.73 365.84L779.53 341.84" style="fill:none;stroke:#b3b3b3;stroke-width:4.17;stroke-linecap:square;stroke-linejoin:round" clip-path="url(#c0)"/>
<path d="M693.93 417.84L697.93 389.84L702.93 399.84L707.93 417.84" style="fill:none;stroke:#b3b3b3;stroke-width:4.17;stroke-linecap:square;stroke-linejoin:round" clip-path="url(#c0)"/>
<path d="M709.93 417.84L712.33 379.84L716.93 417.84" style="fill:none;stroke:#b3b3b3;stroke-width:4.17;stroke-linecap:square;stroke-linejoin:round" clip-path="url(#c0)"/>
<path d="M719.93 417.84L725.93 367.84L731.53 372.84L736.33 369.84L741.13 357.84L745.93 367.84L750.73 385.84L755.53 405.84L756.93 417.84" style="fill:none;stroke:#b3b3b3;stroke-width:4.17;stroke-linecap:square;stroke-linejoin:round" clip-path="url(#c0)"/>
<path d="M723.93 417.84L726.33 401.84L729.93 417.84" style="fill:none;stroke:#b3b3b3;stroke-width:4.17;stroke-linecap:square;stroke-linejoin:round" clip-path="url(#c0)"/>
<path d="M798.64 244.84L803.43 267.84L808.23 309.84L813.02 316.84L817.81 351.84L822.6 337.84L827.39 359.84L832.19 429.84" style="fill:none;stroke:#b3b3b3;stroke-width:4.17;stroke-linecap:square;stroke-linejoin:round" clip-path="url(#c0)"/>
<path d="M769.89 379.84L774.68 364.84L779.47 344.84L784.26 329.84L789.06 354.84L793.85 376.84L798.64 362.84L803.43 395.84L808.23 393.84L813.02 390.84L817.81 417.84L822.6 396.84L827.39 419.84" style="fill:none;stroke:#b3b3b3;stroke-width:4.17;stroke-linecap:square;stroke-linejoin:round" clip-path="url(#c0)"/>
<path d="M913.66 185.84L918.45 269.84L923.24 238.84L928.03 242.84L932.82 238.84L937.62 237.34L942.41 206.84L947.2 293.84L951.99 241.34L956.79 241.34L961.58 229.34L966.37 259.84L971.16 217.84L975.95 187.84" style="fill:none;stroke:#b3b3b3;stroke-width:4.17;stroke-linecap:square;stroke-linejoin:round" clip-path="url(#c0)"/>
<path d="M942.41 354.84L947.2 315.84L951.99 284.84L956.79 244.84L961.58 258.34L966.37 259.84L971.16 239.34L975.95 262.34L980.75 240.84L985.54 246.84L990.33 266.84L995.12 253.84L999.92 254.84L1004.71 232.84L1009.5 265.84L1014.29 268.84L1019.09 238.34L1023.88 255.34L1028.67 235.34L1033.46 262.84L1038.25 267.84L1043.05 239.84" style="fill:none;stroke:#b3b3b3;stroke-width:4.17;stroke-linecap:square;stroke-linejoin:round" clip-path="url(#c0)"/>
<path d="M908.86 429.84L913.66 419.84L918.45 362.84L923.24 390.84L928.03 395.84L932.82 328.84L937.62 363.84L942.41 352.84L947.2 371.84L951.99 334.34L956.79 356.84L961.58 352.34L966.37 350.34L971.16 401.84L975.95 372.84L980.75 362.84L985.54 356.84L990.33 338.84L995.12 334.34L999.92 349.34L1004.71 323.84L1009.5 364.34L1014.29 355.84L1019.09 333.84L1023.88 338.34L1028.67 356.84L1033.46 359.34L1038.25 354.34L1043.05 376.84L1047.84 383.84L1052.63 397.84L1057.42 373.84L1062.22 401.84L1067.01 419.84" style="fill:none;stroke:#b3b3b3;stroke-width:4.17;stroke-linecap:square;stroke-linejoin:round" clip-path="url(#c0)"/>
<path d="M961.58 419.84L966.37 377.84L971.16 394.84L975.95 349.84L980.75 341.84L985.54 383.84L990.33 370.84L995.12 401.84L999.92 409.84L1004.71 393.84L1009.5 419.84" style="fill:none;stroke:#b3b3b3;stroke-width:4.17;stroke-linecap:square;stroke-linejoin:round" clip-path="url(#c0)"/>
<path d="M937.62 419.84L942.41 407.84L947.2 419.84" style="fill:none;stroke:#b3b3b3;stroke-width:4.17;stroke-linecap:square;stroke-linejoin:round" clip-path="url(#c0)"/>
<path d="M951.99 419.84L956.79 402.34L961.58 419.84" style="fill:none;stroke:#b3b3b3;stroke-width:4.17;stroke-linecap:square;stroke-linejoin:round" clip-path="url(#c0)"/>
<path d="M975.95 419.84L980.75 407.84L985.54 419.84" style="fill:none;stroke:#b3b3b3;stroke-width:4.17;stroke-linecap:square;stroke-linejoin:round" clip-path="url(#c0)"/>
<path d="M894.49 419.84L899.28 403.84L904.07 419.84" style="fill:none;stroke:#b3b3b3;stroke-width:4.17;stroke-linecap:square;stroke-linejoin:round" clip-path="url(#c0)"/>
<path d="M1038.25 266.84L1043.05 249.84L1047.84 248.84L1052.63 271.84L1057.42 272.84L1062.22 325.84L1067.01 314.84L1071.8 369.84L1076.59 387.84L1081.38 389.84L1086.18 405.84L1090.97 411.84L1095.76 429.84" style="fill:none;stroke:#b3b3b3;stroke-width:4.17;stroke-linecap:square;stroke-linejoin:round" clip-path="url(#c0)"/>
<path d="M123.93 511.84L131.93 529.84L137.43 527.84L141.93 506.84L146.93 521.84L151.43 535.84" style="fill:none;stroke:#b3b3b3;stroke-width:4.17;stroke-linecap:square;stroke-linejoin:round" clip-path="url(#c0)"/>
<path d="M123.93 492.84L127.43 494.34L130.43 469.84L132.93 451.84L137.43 446.84L142.43 441.84L144.93 439.84" style="fill:none;stroke:#b3b3b3;stroke-width:4.17;stroke-linecap:square;stroke-linejoin:round" clip-path="url(#c0)"/>
<path d="M123.93 457.84L127.93 479.84L132.43 465.84L137.93 460.84L142.43 453.84L145.43 443.84L147.93 439.84" style="fill:none;stroke:#b3b3b3;stroke-width:4.17;stroke-linecap:square;stroke-linejoin:round" clip-path="url(#c0)"/>
<path d="M146.93 439.84L150.93 465.84L152.93 459.84L157.93 459.84L161.93 474.84L165.93 484.84L168.93 501.84L169.93 515.84L173.93 527.84L179.93 526.84L181.93 533.84" style="fill:none;stroke:#b3b3b3;stroke-width:4.17;stroke-linecap:square;stroke-linejoin:round" clip-path="url(#c0)"/>
<path d="M150.93 533.84L155.93 499.84L159.93 475.84L164.93 463.84L169.93 462.84L172.93 463.34L175.93 444.84L177.93 439.84" style="fill:none;stroke:#b3b3b3;stroke-width:4.17;stroke-linecap:square;stroke-linejoin:round" clip-path="url(#c0)"/>
<path d="M155.93 533.84L160.93 499.84L165.93 510.84L169.93 499.84L171.93 482.84L173.93 467.84L175.93 464.84L179.93 473.84L183.93 454.84L187.93 457.84L189.93 462.84L194.93 458.84L196.93 439.84" style="fill:none;stroke:#b3b3b3;stroke-width:4.17;stroke-linecap:square;stroke-linejoin:round" clip-path="url(#c0)"/>
<path d="M123.93 615.84L131.93 561.84L136.93 567.84L141.53 579.84L146.93 550.84L151.93 548.84L156.93 538.84" style="fill:none;stroke:#b3b3b3;stroke-width:4.17;stroke-linecap:square;stroke-linejoin:round" clip-path="url(#c0)"/>
<path d="M169.93 515.84L174.93 531.84L179.93 528.84L184.93 553.84L189.93 586.84L194.93 579.44L198.93 578.84L203.93 616.84L205.93 621.84" style="fill:none;stroke:#b3b3b3;stroke-width:4.17;stroke-linecap:square;stroke-linejoin:round" clip-path="url(#c0)"/>
<path d="M251.93 487.84L257.93 487.84L261.93 491.84L264.93 567.84L269.93 586.84L274.93 583.84L277.93 617.84" style="fill:none;stroke:#b3b3b3;stroke-width:4.17;stroke-linecap:square;stroke-linejoin:round" clip-path="url(#c0)"/>
<path d="M265.93 617.84L266.93 591.84L271.93 597.84L275.93 581.84" style="fill:none;stroke:#b3b3b3;stroke-width:4.17;stroke-linecap:square;stroke-linejoin:round" clip-path="url(#c0)"/>
<path d="M263.93 433.84L265.93 473.84L270.93 481.84L275.93 489.84L280.93 503.84L285.93 533.84L288.93 569.84L291.93 577.84L295.93 581.84L298.93 617.84" style="fill:none;stroke:#b3b3b3;stroke-width:4.17;stroke-linecap:square;stroke-linejoin:round" clip-path="url(#c0)"/>
<path d="M273.93 583.84L283.93 533.84L289.93 531.84L294.93 546.84L299.93 493.84L304.93 492.84L309.93 468.84L314.93 465.84L318.93 455.84L323.93 473.84L329.93 471.84L337.93 441.84L342.93 429.84" style="fill:none;stroke:#b3b3b3;stroke-width:4.17;stroke-linecap:square;stroke-linejoin:round" clip-path="url(#c0)"/>
<path d="M297.93 617.84L304.93 563.84L309.93 617.84L314.93 587.84L318.93 611.84L323.93 591.84L328.93 571.84L333.93 596.84L337.93 579.84L343.93 557.84" style="fill:none;stroke:#b3b3b3;stroke-width:4.17;stroke-linecap:square;stroke-linejoin:round" clip-path="url(#c0)"/>
<path d="M210.93 429.84L213.93 435.84L217.93 456.84L222.93 435.84L226.93 433.84L231.93 451.84L237.93 432.84L242.93 447.84L247.93 463.84L252.33 487.84" style="fill:none;stroke:#b3b3b3;stroke-width:4.17;stroke-linecap:square;stroke-linejoin:round" clip-path="url(#c0)"/>
<path d="M335.93 591.84L339.93 573.84L343.93 559.84L347.93 535.84L351.93 518.84L357.93 513.84L362.93 507.84L368.93 500.84L373.93 493.84L378.93 487.84L383.93 479.84" style="fill:none;stroke:#b3b3b3;stroke-width:4.17;stroke-linecap:square;stroke-linejoin:round" clip-path="url(#c0)"/>
<path d="M361.93 479.84L368.93 497.84L375.93 539.84L382.93 513.84L386.93 497.84L389.93 479.84" style="fill:none;stroke:#b3b3b3;stroke-width:4.17;stroke-linecap:square;stroke-linejoin:round" clip-path="url(#c0)"/>
<path d="M387.93 483.84L395.93 526.84L400.93 485.84L405.93 498.84L410.93 495.84L414.93 479.84" style="fill:none;stroke:#b3b3b3;stroke-width:4.17;stroke-linecap:square;stroke-linejoin:round" clip-path="url(#c0)"/>
<path d="M335.93 667.84L341.93 660.84L350.93 665.84L352.93 667.84" style="fill:none;stroke:#b3b3b3;stroke-width:4.17;stroke-linecap:square;stroke-linejoin:round" clip-path="url(#c0)"/>
<path d="M351.93 667.84L355.93 651.84L361.93 643.84L366.93 592.84L371.93 631.84L376.93 591.84L381.93 554.84L385.93 572.84L390.93 572.84L395.93 548.84L400.93 556.84L405.93 523.84L409.93 497.84L413.93 523.84L417.93 529.84" style="fill:none;stroke:#b3b3b3;stroke-width:4.17;stroke-linecap:square;stroke-linejoin:round" clip-path="url(#c0)"/>
<path d="M412.93 479.84L415.93 523.84L419.93 532.84L423.93 523.84L428.93 549.84L433.93 542.84L437.93 569.84L442.93 609.84L447.93 621.84L452.93 617.84L457.93 639.84L461.93 649.84L465.93 635.84" style="fill:none;stroke:#b3b3b3;stroke-width:4.17;stroke-linecap:square;stroke-linejoin:round" clip-path="url(#c0)"/>
<path d="M417.93 529.84L421.93 499.84L425.93 487.84L429.93 481.84L433.93 479.84" style="fill:none;stroke:#b3b3b3;stroke-width:4.17;stroke-linecap:square;stroke-linejoin:round" clip-path="url(#c0)"/>
<path d="M499.93 479.84L505.93 487.84L511.93 523.84" style="fill:none;stroke:#b3b3b3;stroke-width:4.17;stroke-linecap:square;stroke-linejoin:round" clip-path="url(#c0)"/>
<path d="M523.93 479.84L528.93 523.84L533.93 491.84L536.93 523.84L543.93 517.84L547.93 503.84L551.93 483.84L555.93 479.84" style="fill:none;stroke:#b3b3b3;stroke-width:4.17;stroke-linecap:square;stroke-linejoin:round" clip-path="url(#c0)"/>
<path d="M335.93 697.84L338.93 673.84L342.93 660.84L352.93 667.84L356.93 651.84L362.93 642.84" style="fill:none;stroke:#b3b3b3;stroke-width:4.17;stroke-linecap:square;stroke-linejoin:round" clip-path="url(#c0)"/>
<path d="M440.93 599.84L442.93 611.84L447.93 621.84L452.93 617.84L457.93 642.84L460.93 647.84L463.93 643.84L467.93 633.84L473.93 665.84L477.93 671.84L481.93 668.84L485.93 681.84L489.93 656.84L495.93 659.84L500.93 662.84L505.93 641.84L509.93 647.84L513.93 623.84L518.93 599.84" style="fill:none;stroke:#b3b3b3;stroke-width:4.17;stroke-linecap:square;stroke-linejoin:round" clip-path="url(#c0)"/>
<path d="M523.93 599.84L530.93 619.84L535.93 649.84L538.93 677.84L543.93 689.84L548.93 707.84L551.93 735.84L554.93 747.84L557.93 731.84L561.93 719.84" style="fill:none;stroke:#b3b3b3;stroke-width:4.17;stroke-linecap:square;stroke-linejoin:round" clip-path="url(#c0)"/>
<path d="M200.93 599.84L204.33 619.84L207.93 637.84L213.93 669.84L217.93 664.84L222.93 667.84L227.93 659.84L232.93 667.84L237.53 680.84L242.33 643.84L247.33 664.84L252.33 652.84L256.93 640.84L261.53 640.84L266.73 599.84" style="fill:none;stroke:#b3b3b3;stroke-width:4.17;stroke-linecap:square;stroke-linejoin:round" clip-path="url(#c0)"/>
<path d="M275.93 599.84L284.93 681.84L289.93 661.84L294.93 700.84L298.93 705.84L303.93 723.84L309.53 738.84L314.33 701.84L318.93 743.84L323.93 757.84L328.93 727.84L333.93 701.84L337.93 675.84L343.93 659.84" style="fill:none;stroke:#b3b3b3;stroke-width:4.17;stroke-linecap:square;stroke-linejoin:round" clip-path="url(#c0)"/>
<path d="M294.93 599.84L299.93 632.84L304.93 599.84" style="fill:none;stroke:#b3b3b3;stroke-width:4.17;stroke-linecap:square;stroke-linejoin:round" clip-path="url(#c0)"/>
<path d="M306.93 599.84L309.53 622.84L312.93 599.84" style="fill:none;stroke:#b3b3b3;stroke-width:4.17;stroke-linecap:square;stroke-linejoin:round" clip-path="url(#c0)"/>
<path d="M315.93 599.84L318.93 611.84L322.93 599.84" style="fill:none;stroke:#b3b3b3;stroke-width:4.17;stroke-linecap:square;stroke-linejoin:round" clip-path="url(#c0)"/>
<path d="M646.93 527.84L649.93 499.84L652.93 439.84L654.93 399.84" style="fill:none;stroke:#b3b3b3;stroke-width:4.17;stroke-linecap:square;stroke-linejoin:round" clip-path="url(#c0)"/>
<path d="M697.93 437.84L702.93 451.84L706.93 427.84L711.93 439.84L716.93 447.84L721.93 419.84L725.93 401.84L730.93 423.84L735.93 423.84L740.93 469.84L745.93 455.84L750.93 469.84L755.93 485.84L759.93 519.84L763.93 517.84L765.93 527.84" style="fill:none;stroke:#b3b3b3;stroke-width:4.17;stroke-linecap:square;stroke-linejoin:round" clip-path="url(#c0)"/>
<path d="M665.93 427.84L673.93 422.84L681.93 423.84L688.33 421.84L693.13 425.84L697.93 389.84L702.93 399.84L707.93 423.84L712.33 379.84L717.13 419.84L721.93 399.84L725.93 369.84" style="fill:none;stroke:#b3b3b3;stroke-width:4.17;stroke-linecap:square;stroke-linejoin:round" clip-path="url(#c0)"/>
<path d="M755.93 419.84L761.93 451.84L765.93 467.84L769.93 462.84L773.93 489.84L777.93 493.84L779.93 499.84" style="fill:none;stroke:#b3b3b3;stroke-width:4.17;stroke-linecap:square;stroke-linejoin:round" clip-path="url(#c0)"/>
<path d="M439.93 426.84L443.43 452.84" style="fill:none;stroke:#b3b3b3;stroke-width:4.17;stroke-linecap:square;stroke-linejoin:round" clip-path="url(#c0)"/>
<path d="M443.93 452.84L447.93 425.84L452.93 420.34L455.93 436.84L458.43 444.84" style="fill:none;stroke:#b3b3b3;stroke-width:4.17;stroke-linecap:square;stroke-linejoin:round" clip-path="url(#c0)"/>
<path d="M447.93 448.84L452.93 447.84L458.43 444.84L462.93 428.84L465.93 427.34L476.93 421.84L481.93 423.84L484.93 431.84L489.93 449.84L493.93 459.84L498.93 478.84L503.93 485.84L506.93 490.84L509.93 503.84" style="fill:none;stroke:#b3b3b3;stroke-width:4.17;stroke-linecap:square;stroke-linejoin:round" clip-path="url(#c0)"/>
<path d="M458.43 444.84L460.93 409.84" style="fill:none;stroke:#b3b3b3;stroke-width:4.17;stroke-linecap:square;stroke-linejoin:round" clip-path="url(#c0)"/>
<path d="M499.43 409.84L500.93 412.84L504.93 409.84" style="fill:none;stroke:#b3b3b3;stroke-width:4.17;stroke-linecap:square;stroke-linejoin:round" clip-path="url(#c0)"/>
<path d="M505.93 409.84L509.93 429.84L511.93 444.84L514.43 469.84L517.93 481.84L519.93 481.84L524.93 469.84L526.93 489.84L528.93 503.84" style="fill:none;stroke:#b3b3b3;stroke-width:4.17;stroke-linecap:square;stroke-linejoin:round" clip-path="url(#c0)"/>
<path d="M531.93 503.84L534.43 489.84L536.93 503.84" style="fill:none;stroke:#b3b3b3;stroke-width:4.17;stroke-linecap:square;stroke-linejoin:round" clip-path="url(#c0)"/>
<path d="M547.93 503.84L552.93 469.84" style="fill:none;stroke:#b3b3b3;stroke-width:4.17;stroke-linecap:square;stroke-linejoin:round" clip-path="url(#c0)"/>
<path d="M549.93 504.84L554.43 464.84L558.93 495.84L563.43 429.34L567.93 482.84L572.93 455.34L577.93 479.84L582.93 452.84L587.93 438.84L592.93 449.84L596.93 470.84L600.93 457.84" style="fill:none;stroke:#b3b3b3;stroke-width:4.17;stroke-linecap:square;stroke-linejoin:round" clip-path="url(#c0)"/>
<path d="M574.93 419.84L577.43 451.84L579.93 449.84L583.43 419.84" style="fill:none;stroke:#b3b3b3;stroke-width:4.17;stroke-linecap:square;stroke-linejoin:round" clip-path="url(#c0)"/>
<path d="M601.93 439.84L606.43 437.84L610.93 435.84L615.93 428.84L619.93 422.84L621.93 419.84" style="fill:none;stroke:#b3b3b3;stroke-width:4.17;stroke-linecap:square;stroke-linejoin:round" clip-path="url(#c0)"/>
<path d="M601.93 513.84L604.43 489.84L605.93 466.84L607.43 439.84L609.93 436.84L613.93 449.84L615.93 452.84L619.93 454.84L621.93 439.84L625.93 458.84L629.93 429.84L633.93 452.84L635.93 432.84L639.93 471.84L643.93 439.84L645.93 444.84L649.93 432.84L652.93 447.84L655.93 437.84L659.93 425.84" style="fill:none;stroke:#b3b3b3;stroke-width:4.17;stroke-linecap:square;stroke-linejoin:round" clip-path="url(#c0)"/>
<path d="M602.93 445.84L605.43 469.84L607.93 488.84L610.43 481.84L613.93 496.84L616.93 513.84" style="fill:none;stroke:#b3b3b3;stroke-width:4.17;stroke-linecap:square;stroke-linejoin:round" clip-path="url(#c0)"/>
<path d="M615.43 513.84L619.93 479.84L625.93 493.84L631.93 483.84L633.93 456.84L635.93 431.84" style="fill:none;stroke:#b3b3b3;stroke-width:4.17;stroke-linecap:square;stroke-linejoin:round" clip-path="url(#c0)"/>
<path d="M619.93 499.84L625.93 497.84L628.93 513.84" style="fill:none;stroke:#b3b3b3;stroke-width:4.17;stroke-linecap:square;stroke-linejoin:round" clip-path="url(#c0)"/>
<path d="M649.93 432.84L651.93 467.84L653.93 479.84L657.43 485.84L660.93 507.84L662.93 509.84" style="fill:none;stroke:#b3b3b3;stroke-width:4.17;stroke-linecap:square;stroke-linejoin:round" clip-path="url(#c0)"/>
<path d="M647.43 513.84L649.93 502.84L652.93 494.84L655.93 507.84L659.93 502.84L662.93 489.84" style="fill:none;stroke:#b3b3b3;stroke-width:4.17;stroke-linecap:square;stroke-linejoin:round" clip-path="url(#c0)"/>
<path d="M603.93 479.84L602.93 519.84L600.93 539.84L596.93 527.84L589.93 531.84L581.93 559.84L573.93 599.84L567.93 607.84" style="fill:none;stroke:#b3b3b3;stroke-width:4.17;stroke-linecap:square;stroke-linejoin:round" clip-path="url(#c0)"/>
<path d="M607.93 479.84L615.93 515.84L619.93 499.84L624.93 497.84L629.93 521.84L634.93 514.84L639.93 522.84L642.93 539.84L647.93 527.84L641.93 563.84L635.93 539.84L629.93 559.84L623.93 569.84L619.93 597.84L613.93 613.84L605.93 619.84L599.93 639.84L595.93 667.84" style="fill:none;stroke:#b3b3b3;stroke-width:4.17;stroke-linecap:square;stroke-linejoin:round" clip-path="url(#c0)"/>
<path d="M649.93 479.84L653.93 509.84L657.93 501.84L662.93 503.84L667.93 519.84L673.93 519.84L678.93 523.84L679.93 479.84" style="fill:none;stroke:#b3b3b3;stroke-width:4.17;stroke-linecap:square;stroke-linejoin:round" clip-path="url(#c0)"/>
<path d="M673.93 527.84L677.93 555.84L683.93 543.84L689.93 559.84L693.93 575.84L701.93 617.84L707.93 603.84L713.93 629.84L717.93 651.84L721.93 641.84L725.93 667.84" style="fill:none;stroke:#b3b3b3;stroke-width:4.17;stroke-linecap:square;stroke-linejoin:round" clip-path="url(#c0)"/>
<path d="M751.93 479.84L759.93 527.84L764.93 518.84L765.93 527.84L767.93 565.84L771.93 603.84L775.93 571.84L779.93 575.84" style="fill:none;stroke:#b3b3b3;stroke-width:4.17;stroke-linecap:square;stroke-linejoin:round" clip-path="url(#c0)"/>
<path d="M733.93 667.84L743.93 653.84L749.93 637.84L755.93 619.84L759.93 607.84L765.93 617.84L769.93 599.84L773.93 571.84" style="fill:none;stroke:#b3b3b3;stroke-width:4.17;stroke-linecap:square;stroke-linejoin:round" clip-path="url(#c0)"/>
<path d="M553.93 743.84L561.93 703.84L567.93 711.84L571.93 747.84L575.93 727.84L583.93 697.84L589.93 699.84L593.93 675.84L597.93 653.84L605.93 619.84L611.93 613.84L617.93 607.84L621.93 599.84" style="fill:none;stroke:#b3b3b3;stroke-width:4.17;stroke-linecap:square;stroke-linejoin:round" clip-path="url(#c0)"/>
<path d="M693.93 599.84L701.93 617.84L707.93 603.84L713.93 629.84L716.93 659.84L721.93 641.84L725.93 699.84L731.93 675.84L735.93 659.84L740.93 673.84L745.93 659.84L751.93 637.84L755.93 629.84L759.93 609.84L764.93 617.84L769.93 599.84" style="fill:none;stroke:#b3b3b3;stroke-width:4.17;stroke-linecap:square;stroke-linejoin:round" clip-path="url(#c0)"/>
<path d="M779.93 499.84L783.93 519.84L786.93 539.84L789.93 565.84L791.93 587.84" style="fill:none;stroke:#b3b3b3;stroke-width:4.17;stroke-linecap:square;stroke-linejoin:round" clip-path="url(#c0)"/>
<path d="M791.93 587.84L792.93 525.84L797.93 515.84L803.93 503.84L807.93 463.84L811.93 479.84L817.93 463.84L823.93 445.84L827.93 439.84L831.93 475.84L836.93 459.84L841.93 458.84L846.93 429.84L851.93 419.84" style="fill:none;stroke:#b3b3b3;stroke-width:4.17;stroke-linecap:square;stroke-linejoin:round" clip-path="url(#c0)"/>
<path d="M813.93 399.84L816.93 419.84L821.93 399.84" style="fill:none;stroke:#b3b3b3;stroke-width:4.17;stroke-linecap:square;stroke-linejoin:round" clip-path="url(#c0)"/>
<path d="M825.93 399.84L829.93 421.84L835.93 418.84L840.93 419.84L845.93 449.84L850.93 471.84L855.93 473.84L860.93 489.84L863.93 507.84L865.73 537.84" style="fill:none;stroke:#b3b3b3;stroke-width:4.17;stroke-linecap:square;stroke-linejoin:round" clip-path="url(#c0)"/>
<path d="M831.93 587.84L837.93 559.84L843.93 531.84L850.93 537.84L859.93 519.84L864.93 483.84L867.93 459.84L871.93 439.84" style="fill:none;stroke:#b3b3b3;stroke-width:4.17;stroke-linecap:square;stroke-linejoin:round" clip-path="url(#c0)"/>
<path d="M865.73 537.84L870.53 509.84L875.33 519.84L880.13 537.84L884.93 537.84L894.53 501.84L899.33 533.84L904.13 507.84L908.93 495.84L913.73 511.84L918.33 531.84L923.13 513.84L927.93 535.84L932.73 564.84L937.53 563.84L940.93 587.84" style="fill:none;stroke:#b3b3b3;stroke-width:4.17;stroke-linecap:square;stroke-linejoin:round" clip-path="url(#c0)"/>
<path d="M887.93 587.84L889.93 553.84L899.93 537.84L904.93 519.84L909.93 495.84L915.93 465.84L919.93 453.84L923.93 439.84L927.93 427.84L931.93 411.84" style="fill:none;stroke:#b3b3b3;stroke-width:4.17;stroke-linecap:square;stroke-linejoin:round" clip-path="url(#c0)"/>
<path d="M923.13 513.84L921.93 485.84L929.93 473.84L933.93 467.84L942.33 462.84L947.13 429.84L951.93 443.84L956.73 457.84L961.53 427.84L966.33 405.84L968.93 399.84" style="fill:none;stroke:#b3b3b3;stroke-width:4.17;stroke-linecap:square;stroke-linejoin:round" clip-path="url(#c0)"/>
<path d="M979.93 407.84L984.93 452.84L989.93 443.84L994.93 435.84L997.93 487.84" style="fill:none;stroke:#b3b3b3;stroke-width:4.17;stroke-linecap:square;stroke-linejoin:round" clip-path="url(#c0)"/>
<path d="M771.93 571.84L779.93 577.84L785.93 583.84L787.93 587.84" style="fill:none;stroke:#b3b3b3;stroke-width:4.17;stroke-linecap:square;stroke-linejoin:round" clip-path="url(#c0)"/>
<path d="M817.93 587.84L822.93 575.84L826.93 587.84L831.93 571.84L836.93 587.84" style="fill:none;stroke:#b3b3b3;stroke-width:4.17;stroke-linecap:square;stroke-linejoin:round" clip-path="url(#c0)"/>
<path d="M871.93 575.84L875.93 587.84" style="fill:none;stroke:#b3b3b3;stroke-width:4.17;stroke-linecap:square;stroke-linejoin:round" clip-path="url(#c0)"/>
<path d="M870.53 483.84L875.93 457.84L880.93 433.84L886.93 447.84L891.93 461.84L897.93 479.84L903.93 459.84L907.93 439.84L911.93 449.84L918.93 429.84L923.93 419.84L929.93 423.84L935.93 399.84" style="fill:none;stroke:#b3b3b3;stroke-width:4.17;stroke-linecap:square;stroke-linejoin:round" clip-path="url(#c0)"/>
<path d="M879.93 399.84L884.93 433.84L889.93 399.84" style="fill:none;stroke:#b3b3b3;stroke-width:4.17;stroke-linecap:square;stroke-linejoin:round" clip-path="url(#c0)"/>
<path d="M897.93 399.84L899.93 439.84L903.93 399.84" style="fill:none;stroke:#b3b3b3;stroke-width:4.17;stroke-linecap:square;stroke-linejoin:round" clip-path="url(#c0)"/>
<path d="M859.93 439.84L865.93 433.84L870.93 453.84L875.93 459.84L879.93 437.84L884.93 433.84L889.93 463.84L894.93 423.84L898.93 401.84L902.93 427.84L906.93 445.84L911.93 447.84L917.93 429.84L923.93 439.84L928.93 423.84L935.93 407.84L941.93 417.84L947.93 411.84L955.93 403.84L959.93 411.84" style="fill:none;stroke:#b3b3b3;stroke-width:4.17;stroke-linecap:square;stroke-linejoin:round" clip-path="url(#c0)"/>
<path d="M859.93 483.84L864.93 481.84L868.93 503.84L874.93 523.84L876.93 527.84" style="fill:none;stroke:#b3b3b3;stroke-width:4.17;stroke-linecap:square;stroke-linejoin:round" clip-path="url(#c0)"/>
<path d="M877.93 463.84L881.93 451.84L889.93 433.84L897.93 475.84L901.93 427.84L908.93 405.84L913.93 389.84L918.33 362.84L923.53 391.84L927.93 395.84L932.93 339.84" style="fill:none;stroke:#b3b3b3;stroke-width:4.17;stroke-linecap:square;stroke-linejoin:round" clip-path="url(#c0)"/>
<path d="M935.93 339.84L939.93 367.84L945.93 371.84L948.93 339.84" style="fill:none;stroke:#b3b3b3;stroke-width:4.17;stroke-linecap:square;stroke-linejoin:round" clip-path="url(#c0)"/>
<path d="M947.93 339.84L951.93 355.84L957.93 351.84L965.93 349.84L969.93 397.84L974.93 353.84L979.93 343.84L984.93 381.84L989.93 371.84L995.93 399.84L1000.93 403.84L1004.93 393.84L1008.93 429.84L1013.93 461.84L1018.93 451.84L1023.93 463.84L1026.93 513.84L1029.93 515.84L1033.93 527.84" style="fill:none;stroke:#b3b3b3;stroke-width:4.17;stroke-linecap:square;stroke-linejoin:round" clip-path="url(#c0)"/>
<path d="M907.93 527.84L911.93 493.84L919.93 483.84L925.93 477.84L930.93 467.84L937.93 469.84L941.93 463.84L943.93 445.84L949.93 429.84L955.93 437.84L959.93 423.84L964.93 391.84L969.93 377.84L974.93 363.84L979.93 339.84" style="fill:none;stroke:#b3b3b3;stroke-width:4.17;stroke-linecap:square;stroke-linejoin:round" clip-path="url(#c0)"/>
<path d="M975.93 445.84L980.53 407.84L985.33 453.84L990.13 439.84L994.93 436.84L997.93 459.84L1000.93 495.84L1005.93 513.84L1010.93 527.84" style="fill:none;stroke:#b3b3b3;stroke-width:4.17;stroke-linecap:square;stroke-linejoin:round" clip-path="url(#c0)"/>
<path d="M1023.93 339.84L1028.93 357.84L1036.93 353.84L1040.93 371.84L1045.93 385.84L1050.93 397.84L1056.93 373.84L1059.93 399.84L1065.93 395.84L1071.93 395.84L1077.93 407.84L1081.93 427.84L1085.93 435.84" style="fill:none;stroke:#b3b3b3;stroke-width:4.17;stroke-linecap:square;stroke-linejoin:round" clip-path="url(#c0)"/>
<path d="M1068.93 339.84L1071.93 371.84L1075.93 387.84L1079.93 387.84L1085.93 427.84" style="fill:none;stroke:#b3b3b3;stroke-width:4.17;stroke-linecap:square;stroke-linejoin:round" clip-path="url(#c0)"/>
<path d="M1035.93 527.84L1041.93 515.84L1047.93 509.84L1051.93 483.84L1056.93 505.84L1060.93 475.84L1065.93 483.84L1070.93 477.84L1073.93 451.84L1076.93 439.84L1081.93 433.84L1085.93 425.84" style="fill:none;stroke:#b3b3b3;stroke-width:4.17;stroke-linecap:square;stroke-linejoin:round" clip-path="url(#c0)"/>
<path d="M889.93 527.84L893.93 501.84L898.93 527.84" style="fill:none;stroke:#b3b3b3;stroke-width:4.17;stroke-linecap:square;stroke-linejoin:round" clip-path="url(#c0)"/>
<path d="M902.93 509.84L908.93 495.84L915.93 527.84" style="fill:none;stroke:#b3b3b3;stroke-width:4.17;stroke-linecap:square;stroke-linejoin:round" clip-path="url(#c0)"/>
<path d="M919.93 511.84L925.93 527.84" style="fill:none;stroke:#b3b3b3;stroke-width:4.17;stroke-linecap:square;stroke-linejoin:round" clip-path="url(#c0)"/>
<path d="M1090.93 411.84L1094.93 463.84L1099.93 469.84L1104.93 473.84L1109.93 453.84L1114.93 419.84" style="fill:none;stroke:#b3b3b3;stroke-width:4.17;stroke-linecap:square;stroke-linejoin:round" clip-path="url(#c0)"/>
<path d="M1067.93 397.84L1071.93 393.84L1076.93 401.84L1081.93 419.84L1085.93 429.84L1090.93 441.84L1095.93 451.84L1099.93 449.84L1104.93 451.84L1108.93 469.84L1111.93 487.84" style="fill:none;stroke:#b3b3b3;stroke-width:4.17;stroke-linecap:square;stroke-linejoin:round" clip-path="url(#c0)"/>
<path d="M1071.93 487.84L1076.93 443.84L1081.93 435.84L1085.93 427.84L1090.93 419.84L1096.93 431.84L1100.93 423.84L1105.93 424.84L1109.93 449.84L1113.93 417.84" style="fill:none;stroke:#b3b3b3;stroke-width:4.17;stroke-linecap:square;stroke-linejoin:round" clip-path="url(#c0)"/>
<path d="M1051.93 487.84L1057.93 473.84L1061.93 475.84L1067.93 479.84L1071.93 487.84" style="fill:none;stroke:#b3b3b3;stroke-width:4.17;stroke-linecap:square;stroke-linejoin:round" clip-path="url(#c0)"/>
<path d="M779.93 499.84L783.93 519.84L785.93 549.84L787.93 579.84L789.53 588.84L791.93 587.84L792.93 525.84L797.93 515.84L803.93 499.84" style="fill:none;stroke:#b3b3b3;stroke-width:4.17;stroke-linecap:square;stroke-linejoin:round" clip-path="url(#c0)"/>
<path d="M771.93 569.84L777.93 571.84L783.93 583.84L788.93 575.84L792.93 561.84L797.93 579.84L802.93 605.84L807.93 585.84L812.93 600.84L817.93 581.84L821.93 576.84L826.93 596.84L831.93 572.84L836.93 593.84L840.93 563.84L845.93 531.84L850.93 538.84L855.93 527.84L859.93 517.84L864.93 536.84L865.93 499.84" style="fill:none;stroke:#b3b3b3;stroke-width:4.17;stroke-linecap:square;stroke-linejoin:round" clip-path="url(#c0)"/>
<path d="M869.93 507.84L880.93 537.84L884.93 538.84L893.93 501.84L895.93 499.84" style="fill:none;stroke:#b3b3b3;stroke-width:4.17;stroke-linecap:square;stroke-linejoin:round" clip-path="url(#c0)"/>
<path d="M845.93 687.84L850.93 645.84L855.93 633.84L859.93 592.84L864.93 615.84L869.93 605.84L874.93 576.84L879.93 587.84L884.93 595.84L888.93 552.84L898.93 536.84L904.93 519.84L909.93 499.84" style="fill:none;stroke:#b3b3b3;stroke-width:4.17;stroke-linecap:square;stroke-linejoin:round" clip-path="url(#c0)"/>
<path d="M909.93 499.84L913.93 515.84L917.93 532.84L921.93 511.84L923.93 515.84L926.93 529.84L931.93 563.84L936.93 563.84L941.93 603.84L946.93 611.84L951.93 643.84L955.93 615.84L960.93 625.84L965.93 643.84L970.93 655.84L975.93 674.84L980.93 662.84L984.93 681.84L989.93 662.84L997.93 645.84" style="fill:none;stroke:#b3b3b3;stroke-width:4.17;stroke-linecap:square;stroke-linejoin:round" clip-path="url(#c0)"/>
<path d="M771.93 639.84L778.93 642.84L783.93 641.84L789.93 687.84" style="fill:none;stroke:#b3b3b3;stroke-width:4.17;stroke-linecap:square;stroke-linejoin:round" clip-path="url(#c0)"/>
<path d="M783.93 641.84L788.93 691.84L792.93 735.84L797.93 725.84L802.93 704.84L807.93 735.84L812.93 766.84L817.93 735.84L822.93 738.84L826.93 749.84L831.93 712.84L835.93 713.84L840.93 731.84L845.93 679.84L850.93 646.84L855.93 632.84L859.93 611.84" style="fill:none;stroke:#b3b3b3;stroke-width:4.17;stroke-linecap:square;stroke-linejoin:round" clip-path="url(#c0)"/>
<path d="M907.93 509.84L911.93 493.84L917.93 531.84L922.93 513.84L926.93 533.84L931.93 563.84L937.93 563.84L941.93 603.84L946.93 612.84L951.93 644.84L955.93 614.84L960.93 623.84L965.93 643.84L971.93 657.84" style="fill:none;stroke:#b3b3b3;stroke-width:4.17;stroke-linecap:square;stroke-linejoin:round" clip-path="url(#c0)"/>
<path d="M907.93 493.84L910.93 469.84" style="fill:none;stroke:#b3b3b3;stroke-width:4.17;stroke-linecap:square;stroke-linejoin:round" clip-path="url(#c0)"/>
<path d="M921.93 485.84L927.93 477.84L932.93 469.84L937.93 469.84" style="fill:none;stroke:#b3b3b3;stroke-width:4.17;stroke-linecap:square;stroke-linejoin:round" clip-path="url(#c0)"/>
<path d="M996.93 469.84L999.93 491.84L1004.93 513.84L1013.93 541.84L1018.93 569.84L1021.93 581.84L1023.93 589.84L1026.93 633.84L1027.93 655.84L1032.93 638.84L1037.93 657.84" style="fill:none;stroke:#b3b3b3;stroke-width:4.17;stroke-linecap:square;stroke-linejoin:round" clip-path="url(#c0)"/>
<path d="M1022.93 469.84L1027.93 516.84L1032.93 522.84L1033.93 539.84L1036.93 571.84L1042.93 573.84L1046.93 593.84L1051.93 577.84L1056.93 617.84L1061.93 583.84L1066.93 625.84L1071.93 562.84L1080.93 618.84L1085.93 589.84L1090.93 557.84L1095.93 544.84L1099.93 548.84L1104.93 499.84L1109.93 483.84L1112.93 469.84" style="fill:none;stroke:#b3b3b3;stroke-width:4.17;stroke-linecap:square;stroke-linejoin:round" clip-path="url(#c0)"/>
<path d="M991.93 657.84L999.93 644.84L1004.93 651.84L1009.93 629.84L1013.93 585.84L1018.93 617.84L1022.93 545.84L1027.93 569.84L1032.93 544.84L1036.93 538.84L1041.93 516.84L1046.93 509.84L1051.93 483.84L1056.93 505.84L1061.93 473.84L1066.93 484.84L1071.93 478.84L1072.93 469.84" style="fill:none;stroke:#b3b3b3;stroke-width:4.17;stroke-linecap:square;stroke-linejoin:round" clip-path="url(#c0)"/>
<path d="M1095.93 469.84L1100.93 473.84L1105.93 474.84L1108.93 469.84" style="fill:none;stroke:#b3b3b3;stroke-width:4.17;stroke-linecap:square;stroke-linejoin:round" clip-path="url(#c0)"/>
<path d="M1110.93 469.84L1113.93 521.84" style="fill:none;stroke:#b3b3b3;stroke-width:4.17;stroke-linecap:square;stroke-linejoin:round" clip-path="url(#c0)"/>
<path d="M1094.93 649.84L1099.93 657.84" style="fill:none;stroke:#b3b3b3;stroke-width:4.17;stroke-linecap:square;stroke-linejoin:round" clip-path="url(#c0)"/>
<path d="M1104.93 657.84L1108.93 614.84L1113.93 609.84" style="fill:none;stroke:#b3b3b3;stroke-width:4.17;stroke-linecap:square;stroke-linejoin:round" clip-path="url(#c0)"/>
<path d="M944.93 611.84L950.93 644.84L955.93 614.84L960.93 624.84L965.93 643.84L970.93 656.84L975.93 674.84L979.93 662.84L984.93 682.84L989.93 662.84L994.93 652.84L999.93 644.84L1003.93 652.84L1008.93 631.84L1011.93 611.84" style="fill:none;stroke:#b3b3b3;stroke-width:4.17;stroke-linecap:square;stroke-linejoin:round" clip-path="url(#c0)"/>
<path d="M1023.93 611.84L1027.93 654.84L1032.93 638.84L1037.93 657.84L1041.93 705.84L1046.93 702.84L1050.93 727.84L1056.93 744.84L1061.93 718.84L1066.93 717.84L1071.93 731.84L1075.93 710.84L1080.93 736.84L1085.93 730.84L1089.93 697.84L1094.93 649.84L1099.93 661.84L1104.93 661.84L1108.93 615.84L1113.93 611.84" style="fill:none;stroke:#b3b3b3;stroke-width:4.17;stroke-linecap:square;stroke-linejoin:round" clip-path="url(#c0)"/>
<path d="M597.93 441.84L600.93 436.84L603.93 451.84L606.93 435.84L609.93 449.84L612.93 433.84L615.93 446.84L618.93 427.84L620.93 454.84L623.93 427.84L625.93 458.84L628.93 439.84L631.93 451.84L634.93 431.84L637.93 447.84L640.93 430.84L643.93 444.84L646.93 431.84L649.93 446.84L652.93 433.84L655.93 445.84" style="fill:none;stroke:#b3b3b3;stroke-width:4.17;stroke-linecap:square;stroke-linejoin:round" clip-path="url(#c0)"/>
<path d="M597.93 469.84L600.93 445.84L603.93 467.84L606.93 447.84L609.93 461.84L612.93 445.84L614.93 469.84" style="fill:none;stroke:#b3b3b3;stroke-width:4.17;stroke-linecap:square;stroke-linejoin:round" clip-path="url(#c0)"/>
<path d="M629.93 479.84L632.93 449.84L635.93 469.84L638.93 444.84L641.93 472.84L644.93 451.84L647.93 464.84" style="fill:none;stroke:#b3b3b3;stroke-width:4.17;stroke-linecap:square;stroke-linejoin:round" clip-path="url(#c0)"/>
<path d="M648.93 479.84L650.93 449.84L653.93 469.84L655.93 439.84L657.93 454.84" style="fill:none;stroke:#b3b3b3;stroke-width:4.17;stroke-linecap:square;stroke-linejoin:round" clip-path="url(#c0)"/>
<path d="M141.53 506.04L150.83 544.84L155.23 499.84" style="fill:none;stroke:#b3b3b3;stroke-width:4.17;stroke-linecap:square;stroke-linejoin:round" clip-path="url(#c0)"/>
<path d="M146.43 550.54L151.63 548.34L156.93 539.54L158.73 499.84" style="fill:none;stroke:#b3b3b3;stroke-width:4.17;stroke-linecap:square;stroke-linejoin:round" clip-path="url(#c0)"/>
<path d="M122.93 401.84L127.72 451.84L132.52 427.84L137.31 409.84L142.1 409.84L146.89 395.84L151.68 421.84L156.48 455.84L161.27 406.84L166.06 427.84L170.85 430.84L175.65 426.84L180.44 432.84L185.23 451.84L190.02 432.84L194.81 428.34L199.61 450.84L204.4 443.84L209.19 439.84L213.98 459.84L218.78 497.84L223.57 459.84L228.36 469.44L233.15 450.84L237.95 477.44L242.74 450.84L247.53 449.44L252.32 492.24L257.11 449.44L261.91 472.84L266.7 451.84L271.49 467.84L276.28 482.84L281.08 465.84L285.87 455.44L290.66 462.84L295.45 465.44L300.24 433.84L305.04 461.84L309.83 450.84L314.62 438.84L319.41 420.84L324.21 475.44L329 437.84L333.79 420.84L338.58 417.84L343.37 472.84L348.17 474.84L352.96 417.84L357.75 395.84L362.54 420.84L367.34 411.84L372.13 403.44L376.92 413.84L381.71 408.84L386.51 414.84L391.3 407.44L396.09 410.84L400.88 431.84L405.67 430.84L410.47 447.84L415.26 423.84L420.05 431.84L424.84 439.84L429.64 448.84L434.43 431.84L439.22 451.84L444.01 462.84L448.8 465.84L453.6 487.84L458.39 457.84L463.18 451.84L467.97 475.84L472.77 488.84L477.56 443.84L482.35 448.84L487.14 477.84L491.94 459.84L496.73 457.84L501.52 435.44L506.31 447.84L511.1 459.84L515.9 485.84L520.69 455.84L525.48 459.84L530.27 463.44L535.07 462.84L539.86 454.84L544.65 472.84L549.44 469.84L554.23 453.84L559.03 447.84" style="fill:none;stroke:#ff0000;stroke-width:4.17;stroke-linecap:square;stroke-linejoin:round" clip-path="url(#c0)"/>
<path d="M559.03 447.84L563.82 457.84L568.61 443.84L573.4 440.84L578.2 425.84L582.99 429.84L587.78 440.84L592.57 416.84L597.37 452.84L602.16 387.84L606.95 395.84L611.74 425.84L616.53 383.84L621.33 411.84L626.12 414.84L630.91 435.84L635.7 411.44L640.5 412.84L645.29 436.84L650.08 413.84L654.87 423.84L659.66 435.84L664.46 431.44L669.25 438.84L674.04 465.84L678.83 453.84L683.63 461.84L688.42 474.84L693.21 455.84L698 453.84L702.8 501.84L707.59 440.84L712.38 441.84L717.17 444.84L721.96 463.84L726.76 469.84L731.55 474.84L736.34 463.84L741.13 455.84L745.93 472.84L750.72 466.84L755.51 406.84L760.3 455.84L765.09 453.84L769.89 456.84L774.68 438.84L779.47 495.84" style="fill:none;stroke:#ff0000;stroke-width:4.17;stroke-linecap:square;stroke-linejoin:round" clip-path="url(#c0)"/>
<path d="M779.47 495.84L784.26 447.84L789.06 447.84L793.85 453.84L798.64 433.84L803.43 439.84L808.23 445.84L813.02 447.84L817.81 446.84L822.6 442.84L827.39 438.84L832.19 455.84L836.98 441.84L841.77 430.84L846.56 428.84L851.36 407.84L856.15 442.84L860.94 427.84L865.73 414.84L870.52 399.84" style="fill:none;stroke:#ff0000;stroke-width:4.17;stroke-linecap:square;stroke-linejoin:round" clip-path="url(#c0)"/>
<path d="M870.52 399.84L875.32 383.84L880.11 387.84L884.9 433.84L889.69 390.84L894.49 387.84L899.28 397.84L904.07 395.84L908.86 403.84L913.66 379.84L918.45 409.84L923.24 407.84L928.03 425.84L932.82 424.84L937.62 399.84L942.41 423.84L947.2 442.84L951.99 443.84L956.79 437.84L961.58 429.84L966.37 405.84L971.16 423.84L975.95 441.84L980.75 427.84L985.54 413.84L990.33 405.84L995.12 421.84L999.92 424.84L1004.71 414.84L1009.5 418.84L1014.29 428.84L1019.09 385.84L1023.88 427.84L1028.67 453.84L1033.46 420.84L1038.25 429.84L1043.05 428.84L1047.84 405.84L1052.63 416.84L1057.42 412.84L1062.22 401.84L1067.01 420.84L1071.8 425.84L1076.59 441.84L1081.38 433.84L1086.18 373.84" style="fill:none;stroke:#ff0000;stroke-width:4.17;stroke-linecap:square;stroke-linejoin:round" clip-path="url(#c0)"/>
<path d="M1086.18 373.84L1090.97 400.84L1095.76 399.84L1100.55 392.84L1105.35 407.84L1110.14 394.84L1114.93 361.84" style="fill:none;stroke:#ff0000;stroke-width:4.17;stroke-linecap:square;stroke-linejoin:round" clip-path="url(#c0)"/>
<path d="M870 801L870 62" style="fill:none;stroke:#000000;stroke-width:4.17;stroke-linecap:butt;stroke-linejoin:round;stroke-dasharray:15.42 6.67" clip-path="url(#c0)"/>
<path d="M123 801L123 62" style="fill:none;stroke:#000000;stroke-width:2.22;stroke-linecap:square;stroke-linejoin:miter"/>
<path d="M1115 801L1115 62" style="fill:none;stroke:#000000;stroke-width:2.22;stroke-linecap:square;stroke-linejoin:miter"/>
<path d="M123 801L1115 801" style="fill:none;stroke:#000000;stroke-width:2.22;stroke-linecap:square;stroke-linejoin:miter"/>
<path d="M123 62L1115 62" style="fill:none;stroke:#000000;stroke-width:2.22;stroke-linecap:square;stroke-linejoin:miter"/>
<text x="495.81" y="46" style="font-size:33.33px;fill:#000000">Observed data</text>
<path d="M466.24 787.16L771.63 787.16Q777.18 787.16 777.18 781.6L777.18 532.04Q777.18 526.49 771.63 526.49L466.24 526.49Q460.68 526.49 460.68 532.04L460.68 781.6Q460.68 787.16 466.24 787.16Z" style="fill:#ffffff;fill-opacity:0.8;stroke:#cccccc;stroke-opacity:0.8;stroke-width:2.78;stroke-linecap:butt;stroke-linejoin:miter"/>
<path d="M472 550L500 550L527 550" style="fill:none;stroke:#b3b3b3;stroke-width:4.17;stroke-linecap:square;stroke-linejoin:round"/>
<text x="549.57" y="560.42" style="font-size:27.78px;fill:#000000">Bulgaria</text>
<path d="M472 592L500 592L527 592" style="fill:none;stroke:#b3b3b3;stroke-width:4.17;stroke-linecap:square;stroke-linejoin:round"/>
<text x="549.57" y="602.31" style="font-size:27.78px;fill:#000000">Austria</text>
<path d="M472 634L500 634L527 634" style="fill:none;stroke:#b3b3b3;stroke-width:4.17;stroke-linecap:square;stroke-linejoin:round"/>
<text x="549.57" y="644.2" style="font-size:27.78px;fill:#000000">Belgium</text>
<path d="M472 676L500 676L527 676" style="fill:none;stroke:#b3b3b3;stroke-width:4.17;stroke-linecap:square;stroke-linejoin:round"/>
<text x="549.57" y="686.09" style="font-size:27.78px;fill:#000000">Cyprus</text>
<path d="M472 717L500 717L527 717" style="fill:none;stroke:#b3b3b3;stroke-width:4.17;stroke-linecap:square;stroke-linejoin:round"/>
<text x="549.57" y="727.98" style="font-size:27.78px;fill:#000000">Czech_Republic</text>
<path d="M472 760L500 760L527 760" style="fill:none;stroke:#b3b3b3;stroke-width:4.17;stroke-linecap:square;stroke-linejoin:round"/>
<text x="549.57" y="770.87" style="font-size:27.78px;fill:#000000">Croatia</text>
</svg>
</body></html>
